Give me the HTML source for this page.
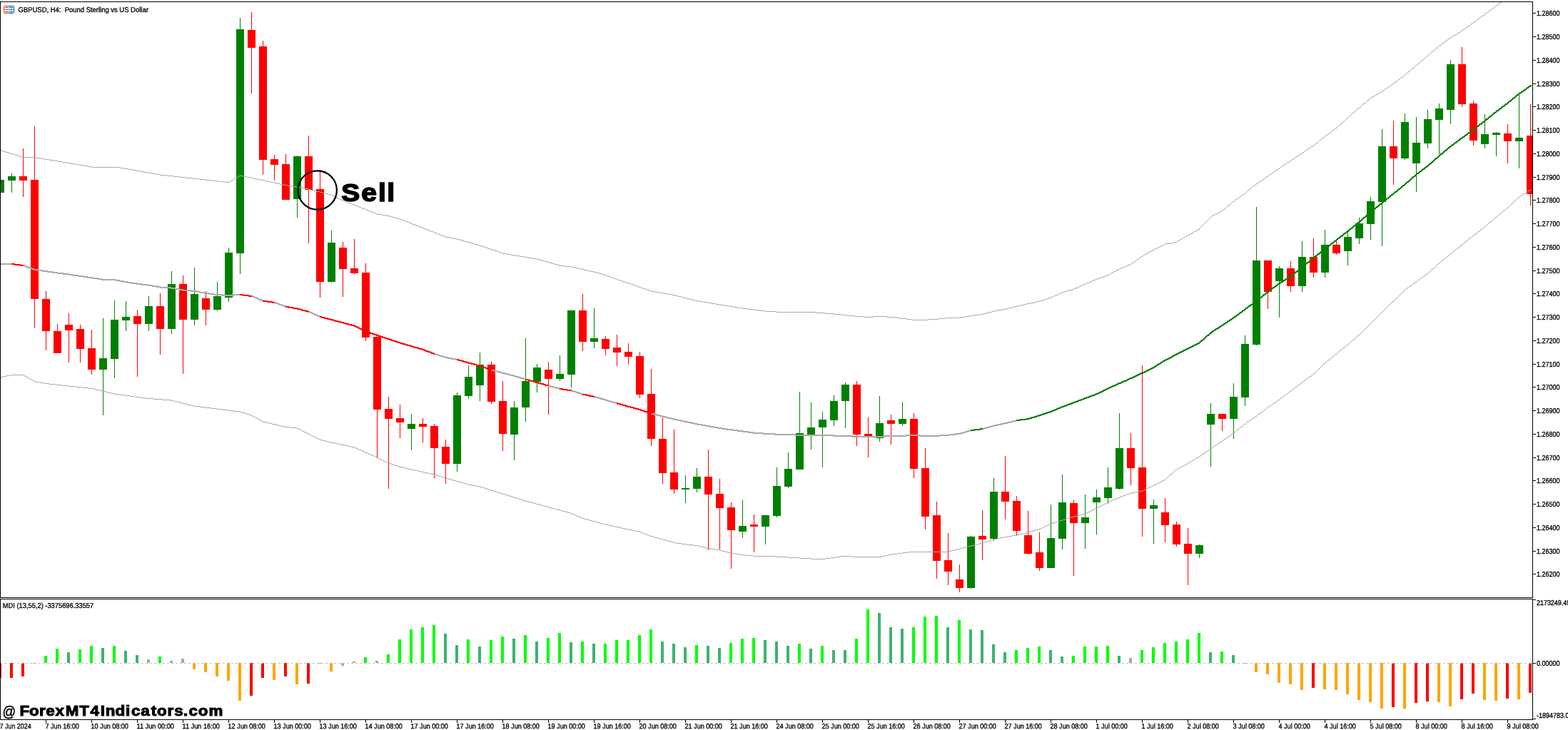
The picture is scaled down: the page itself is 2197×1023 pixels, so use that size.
<!DOCTYPE html>
<html lang="en"><head><meta charset="utf-8"><title>GBPUSD, H4: Pound Sterling vs US Dollar</title>
<style>
html,body{margin:0;padding:0;background:#fff;}
body{width:2197px;height:1023px;overflow:hidden;position:relative;}
svg{position:absolute;left:0;top:0;display:block;}
text{font-family:"Liberation Sans",sans-serif;fill:#000;white-space:pre;}
.ax{font-size:10px;stroke:#000;stroke-width:.35px;text-rendering:geometricPrecision;}
.t{font-size:10px;stroke:#000;stroke-width:.35px;text-rendering:geometricPrecision;}
.wa{font-family:"Liberation Sans",sans-serif;font-size:20.5px;stroke:#000;stroke-width:.5px;}
</style></head><body>
<svg width="2197" height="1023" viewBox="0 0 2197 1023">
<rect width="2197" height="1023" fill="#fff"/>
<g shape-rendering="crispEdges">
<path fill="#008000" d="M0 252h1v18h-1zM1 252h5v18h-5zM16 243h1v27h-1zM11 247h11v6h-11zM144 446h1v136h-1zM139 502h11v16h-11zM160 421h1v109h-1zM155 448h11v55h-11zM176 422h1v42h-1zM171 444h11v5h-11zM208 415h1v49h-1zM203 429h11v25h-11zM240 380h1v88h-1zM235 398h11v63h-11zM272 375h1v81h-1zM267 412h11v36h-11zM304 395h1v41h-1zM299 415h11v19h-11zM320 347h1v76h-1zM315 354h11v63h-11zM336 25h1v359h-1zM331 41h11v314h-11zM416 218h1v87h-1zM411 219h11v60h-11zM464 323h1v73h-1zM459 340h11v55h-11zM576 580h1v51h-1zM571 594h11v7h-11zM640 550h1v111h-1zM635 554h11v96h-11zM656 512h1v47h-1zM651 528h11v27h-11zM672 494h1v68h-1zM667 511h11v29h-11zM720 562h1v83h-1zM715 571h11v38h-11zM736 474h1v117h-1zM731 534h11v37h-11zM752 510h1v40h-1zM747 515h11v20h-11zM784 498h1v36h-1zM779 524h11v7h-11zM800 435h1v108h-1zM795 435h11v90h-11zM832 432h1v56h-1zM827 474h11v5h-11zM960 666h1v39h-1zM955 684h11v2h-11zM976 656h1v34h-1zM971 668h11v17h-11zM1040 701h1v53h-1zM1035 737h11v8h-11zM1072 722h1v41h-1zM1067 722h11v16h-11zM1088 655h1v70h-1zM1083 681h11v42h-11zM1104 634h1v50h-1zM1099 657h11v25h-11zM1120 549h1v109h-1zM1115 607h11v51h-11zM1136 564h1v66h-1zM1131 599h11v10h-11zM1152 577h1v78h-1zM1147 588h11v11h-11zM1168 554h1v43h-1zM1163 562h11v27h-11zM1184 536h1v64h-1zM1179 539h11v23h-11zM1232 555h1v64h-1zM1227 593h11v21h-11zM1264 563h1v34h-1zM1259 587h11v7h-11zM1360 751h1v74h-1zM1355 752h11v72h-11zM1392 670h1v88h-1zM1387 689h11v66h-11zM1472 707h1v89h-1zM1467 754h11v42h-11zM1488 665h1v105h-1zM1483 704h11v51h-11zM1520 693h1v76h-1zM1515 725h11v8h-11zM1536 686h1v63h-1zM1531 697h11v7h-11zM1552 655h1v51h-1zM1547 683h11v15h-11zM1568 579h1v107h-1zM1563 628h11v57h-11zM1616 700h1v62h-1zM1611 708h11v5h-11zM1680 763h1v19h-1zM1675 764h11v12h-11zM1696 565h1v89h-1zM1691 580h11v15h-11zM1728 537h1v78h-1zM1723 556h11v31h-11zM1744 470h1v99h-1zM1739 482h11v75h-11zM1760 290h1v194h-1zM1755 365h11v118h-11zM1792 373h1v72h-1zM1787 376h11v18h-11zM1824 338h1v71h-1zM1819 360h11v41h-11zM1856 322h1v67h-1zM1851 343h11v39h-11zM1888 325h1v47h-1zM1883 332h11v20h-11zM1904 305h1v37h-1zM1899 313h11v21h-11zM1920 276h1v60h-1zM1915 282h11v32h-11zM1936 181h1v164h-1zM1931 205h11v78h-11zM1968 159h1v65h-1zM1963 171h11v51h-11zM1984 164h1v105h-1zM1979 200h11v29h-11zM2000 154h1v54h-1zM1995 167h11v34h-11zM2016 145h1v71h-1zM2011 152h11v16h-11zM2032 84h1v90h-1zM2027 90h11v64h-11zM2080 160h1v48h-1zM2075 188h11v14h-11zM2096 185h1v34h-1zM2091 186h11v3h-11zM2128 130h1v106h-1zM2123 193h11v5h-11z"/>
<path fill="#ff0000" d="M32 208h1v68h-1zM27 247h11v6h-11zM48 177h1v283h-1zM43 252h11v167h-11zM64 408h1v83h-1zM59 419h11v45h-11zM80 454h1v41h-1zM75 464h11v31h-11zM96 439h1v69h-1zM91 455h11v8h-11zM112 455h1v53h-1zM107 461h11v28h-11zM128 462h1v63h-1zM123 488h11v30h-11zM192 434h1v94h-1zM187 443h11v11h-11zM224 411h1v86h-1zM219 429h11v32h-11zM256 386h1v138h-1zM251 398h11v50h-11zM288 408h1v48h-1zM283 418h11v16h-11zM352 17h1v114h-1zM347 42h11v25h-11zM368 57h1v188h-1zM363 65h11v159h-11zM384 217h1v36h-1zM379 223h11v8h-11zM400 216h1v64h-1zM395 230h11v50h-11zM432 190h1v151h-1zM427 219h11v47h-11zM448 238h1v179h-1zM443 265h11v130h-11zM480 339h1v77h-1zM475 347h11v30h-11zM496 335h1v49h-1zM491 376h11v7h-11zM512 369h1v109h-1zM507 382h11v91h-11zM528 470h1v171h-1zM523 472h11v102h-11zM544 556h1v129h-1zM539 573h11v14h-11zM560 567h1v47h-1zM555 586h11v6h-11zM592 586h1v34h-1zM587 594h11v4h-11zM608 594h1v76h-1zM603 597h11v31h-11zM624 616h1v62h-1zM619 626h11v24h-11zM688 507h1v59h-1zM683 511h11v52h-11zM704 534h1v98h-1zM699 562h11v46h-11zM768 507h1v74h-1zM763 518h11v13h-11zM816 412h1v80h-1zM811 435h11v44h-11zM848 471h1v27h-1zM843 475h11v14h-11zM864 469h1v44h-1zM859 487h11v7h-11zM880 481h1v30h-1zM875 493h11v7h-11zM896 493h1v65h-1zM891 499h11v54h-11zM912 517h1v108h-1zM907 552h11v63h-11zM928 585h1v93h-1zM923 615h11v48h-11zM944 602h1v90h-1zM939 662h11v24h-11zM992 630h1v141h-1zM987 668h11v25h-11zM1008 671h1v99h-1zM1003 692h11v20h-11zM1024 704h1v93h-1zM1019 711h11v32h-11zM1056 721h1v53h-1zM1051 735h11v3h-11zM1200 534h1v91h-1zM1195 539h11v70h-11zM1216 585h1v56h-1zM1211 608h11v3h-11zM1248 581h1v42h-1zM1243 589h11v5h-11zM1280 579h1v91h-1zM1275 587h11v70h-11zM1296 628h1v114h-1zM1291 656h11v68h-11zM1312 703h1v108h-1zM1307 722h11v64h-11zM1328 747h1v73h-1zM1323 785h11v16h-11zM1344 791h1v39h-1zM1339 812h11v12h-11zM1376 715h1v70h-1zM1371 751h11v5h-11zM1408 639h1v89h-1zM1403 689h11v14h-11zM1424 695h1v55h-1zM1419 702h11v42h-11zM1440 716h1v61h-1zM1435 750h11v26h-11zM1456 746h1v54h-1zM1451 774h11v22h-11zM1504 701h1v106h-1zM1499 705h11v28h-11zM1584 607h1v73h-1zM1579 628h11v28h-11zM1600 512h1v240h-1zM1595 655h11v58h-11zM1632 698h1v62h-1zM1627 718h11v18h-11zM1648 731h1v35h-1zM1643 735h11v28h-11zM1664 740h1v80h-1zM1659 762h11v14h-11zM1712 580h1v24h-1zM1707 580h11v7h-11zM1776 365h1v68h-1zM1771 365h11v44h-11zM1808 366h1v43h-1zM1803 376h11v25h-11zM1840 334h1v55h-1zM1835 360h11v22h-11zM1872 338h1v19h-1zM1867 343h11v12h-11zM1952 169h1v90h-1zM1947 205h11v17h-11zM2048 66h1v84h-1zM2043 90h11v56h-11zM2064 141h1v63h-1zM2059 145h11v52h-11zM2112 174h1v55h-1zM2107 187h11v11h-11zM2144 146h1v142h-1zM2139 190h8v82h-8z"/>
<path fill="#a9a9a9" d="M2102 3h2v1h-2zM2101 4h1v1h-1zM2099 5h2v1h-2zM2098 6h1v1h-1zM2097 7h1v1h-1zM2095 8h2v1h-2zM2094 9h1v1h-1zM2093 10h1v1h-1zM2091 11h2v1h-2zM2090 12h1v1h-1zM2089 13h1v1h-1zM2087 14h2v1h-2zM2086 15h1v1h-1zM2085 16h1v1h-1zM2083 17h2v1h-2zM2082 18h1v1h-1zM2081 19h1v1h-1zM2080 20h1v1h-1zM2078 21h2v1h-2zM2077 22h1v1h-1zM2075 23h2v1h-2zM2074 24h1v1h-1zM2073 25h1v1h-1zM2071 26h2v1h-2zM2070 27h1v1h-1zM2068 28h2v1h-2zM2067 29h1v1h-1zM2066 30h1v1h-1zM2064 31h2v1h-2zM2063 32h1v1h-1zM2061 33h2v1h-2zM2060 34h1v1h-1zM2059 35h1v1h-1zM2057 36h2v1h-2zM2056 37h1v1h-1zM2054 38h2v1h-2zM2053 39h1v1h-1zM2052 40h1v1h-1zM2050 41h2v1h-2zM2049 42h1v1h-1zM2047 43h2v1h-2zM2046 44h1v1h-1zM2044 45h2v1h-2zM2042 46h2v1h-2zM2041 47h1v1h-1zM2039 48h2v1h-2zM2037 49h2v1h-2zM2035 50h2v1h-2zM2034 51h1v1h-1zM2032 52h2v1h-2zM2031 53h1v1h-1zM2029 54h2v1h-2zM2028 55h1v1h-1zM2027 56h1v1h-1zM2025 57h2v1h-2zM2024 58h1v1h-1zM2023 59h1v1h-1zM2021 60h2v1h-2zM2020 61h1v1h-1zM2019 62h1v1h-1zM2017 63h2v1h-2zM2016 64h1v1h-1zM2015 65h1v1h-1zM2014 66h1v1h-1zM2012 67h2v1h-2zM2011 68h1v1h-1zM2010 69h1v1h-1zM2009 70h1v1h-1zM2008 71h1v1h-1zM2006 72h2v1h-2zM2005 73h1v1h-1zM2004 74h1v1h-1zM2003 75h1v1h-1zM2002 76h1v1h-1zM2001 77h1v1h-1zM1999 78h2v1h-2zM1998 79h1v1h-1zM1997 80h1v1h-1zM1996 81h1v1h-1zM1995 82h1v1h-1zM1993 83h2v1h-2zM1992 84h1v1h-1zM1991 85h1v1h-1zM1990 86h1v1h-1zM1989 87h1v1h-1zM1988 88h1v1h-1zM1986 89h2v1h-2zM1985 90h1v1h-1zM1984 91h1v1h-1zM1983 92h1v1h-1zM1982 93h1v1h-1zM1981 94h1v1h-1zM1979 95h2v1h-2zM1978 96h1v1h-1zM1977 97h1v1h-1zM1976 98h1v1h-1zM1975 99h1v1h-1zM1973 100h2v1h-2zM1972 101h1v1h-1zM1971 102h1v1h-1zM1970 103h1v1h-1zM1969 104h1v1h-1zM1967 105h2v1h-2zM1966 106h1v1h-1zM1965 107h1v1h-1zM1963 108h2v1h-2zM1962 109h1v1h-1zM1961 110h1v1h-1zM1959 111h2v1h-2zM1958 112h1v1h-1zM1957 113h1v1h-1zM1955 114h2v1h-2zM1954 115h1v1h-1zM1953 116h1v1h-1zM1951 117h2v1h-2zM1950 118h1v1h-1zM1948 119h2v1h-2zM1947 120h1v1h-1zM1946 121h1v1h-1zM1944 122h2v1h-2zM1943 123h1v1h-1zM1941 124h2v1h-2zM1940 125h1v1h-1zM1938 126h2v1h-2zM1937 127h1v1h-1zM1935 128h2v1h-2zM1933 129h2v1h-2zM1932 130h1v1h-1zM1930 131h2v1h-2zM1928 132h2v1h-2zM1927 133h1v1h-1zM1925 134h2v1h-2zM1923 135h2v1h-2zM1921 136h2v1h-2zM1920 137h1v1h-1zM1919 138h1v1h-1zM1918 139h1v1h-1zM1916 140h2v1h-2zM1915 141h1v1h-1zM1914 142h1v1h-1zM1913 143h1v1h-1zM1912 144h1v1h-1zM1910 145h2v1h-2zM1909 146h1v1h-1zM1908 147h1v1h-1zM1907 148h1v1h-1zM1906 149h1v1h-1zM1905 150h1v1h-1zM1903 151h2v1h-2zM1902 152h1v1h-1zM1901 153h1v1h-1zM1900 154h1v1h-1zM1899 155h1v1h-1zM1898 156h1v1h-1zM1897 157h1v1h-1zM1895 158h2v1h-2zM1894 159h1v1h-1zM1893 160h1v1h-1zM1892 161h1v1h-1zM1891 162h1v1h-1zM1890 163h1v1h-1zM1889 164h1v1h-1zM1887 165h2v1h-2zM1886 166h1v1h-1zM1885 167h1v1h-1zM1884 168h1v1h-1zM1883 169h1v1h-1zM1882 170h1v1h-1zM1881 171h1v1h-1zM1879 172h2v1h-2zM1878 173h1v1h-1zM1877 174h1v1h-1zM1876 175h1v1h-1zM1875 176h1v1h-1zM1874 177h1v1h-1zM1873 178h1v1h-1zM1871 179h2v1h-2zM1870 180h1v1h-1zM1869 181h1v1h-1zM1867 182h2v1h-2zM1866 183h1v1h-1zM1865 184h1v1h-1zM1864 185h1v1h-1zM1862 186h2v1h-2zM1861 187h1v1h-1zM1860 188h1v1h-1zM1858 189h2v1h-2zM1857 190h1v1h-1zM1856 191h1v1h-1zM1855 192h1v1h-1zM1853 193h2v1h-2zM1852 194h1v1h-1zM1851 195h1v1h-1zM1849 196h2v1h-2zM1848 197h1v1h-1zM1847 198h1v1h-1zM1846 199h1v1h-1zM1844 200h2v1h-2zM1843 201h1v1h-1zM1842 202h1v1h-1zM1841 203h1v1h-1zM1839 204h2v1h-2zM1837 205h2v1h-2zM1836 206h1v1h-1zM1834 207h2v1h-2zM1833 208h1v1h-1zM1831 209h2v1h-2zM1 210h1v1h-1zM1830 210h1v1h-1zM2 211h3v1h-3zM1828 211h2v1h-2zM5 212h3v1h-3zM1827 212h1v1h-1zM8 213h4v1h-4zM1825 213h2v1h-2zM12 214h3v1h-3zM1824 214h1v1h-1zM15 215h3v1h-3zM1822 215h2v1h-2zM18 216h3v1h-3zM1821 216h1v1h-1zM21 217h3v1h-3zM1819 217h2v1h-2zM24 218h4v1h-4zM1818 218h1v1h-1zM28 219h3v1h-3zM1816 219h2v1h-2zM31 220h20v1h-20zM1815 220h1v1h-1zM51 221h6v1h-6zM1813 221h2v1h-2zM57 222h6v1h-6zM1812 222h1v1h-1zM63 223h6v1h-6zM1810 223h2v1h-2zM69 224h6v1h-6zM1809 224h1v1h-1zM75 225h6v1h-6zM1807 225h2v1h-2zM81 226h6v1h-6zM1806 226h1v1h-1zM87 227h6v1h-6zM1804 227h2v1h-2zM93 228h6v1h-6zM1803 228h1v1h-1zM99 229h6v1h-6zM1801 229h2v1h-2zM105 230h6v1h-6zM1800 230h1v1h-1zM111 231h6v1h-6zM1798 231h2v1h-2zM117 232h6v1h-6zM1797 232h1v1h-1zM123 233h5v1h-5zM1795 233h2v1h-2zM128 234h40v1h-40zM1794 234h1v1h-1zM168 235h6v1h-6zM1793 235h1v1h-1zM174 236h6v1h-6zM1791 236h2v1h-2zM180 237h5v1h-5zM1790 237h1v1h-1zM185 238h6v1h-6zM1788 238h2v1h-2zM191 239h5v1h-5zM1787 239h1v1h-1zM196 240h6v1h-6zM1785 240h2v1h-2zM202 241h6v1h-6zM1784 241h1v1h-1zM208 242h5v1h-5zM1782 242h2v1h-2zM213 243h6v1h-6zM1781 243h1v1h-1zM219 244h5v1h-5zM1779 244h2v1h-2zM224 245h10v1h-10zM1778 245h1v1h-1zM234 246h9v1h-9zM335 246h6v1h-6zM1777 246h1v1h-1zM243 247h9v1h-9zM333 247h2v1h-2zM341 247h5v1h-5zM1775 247h2v1h-2zM252 248h9v1h-9zM332 248h1v1h-1zM346 248h5v1h-5zM1774 248h1v1h-1zM261 249h9v1h-9zM330 249h2v1h-2zM351 249h4v1h-4zM1772 249h2v1h-2zM270 250h9v1h-9zM328 250h2v1h-2zM355 250h5v1h-5zM1771 250h1v1h-1zM279 251h9v1h-9zM327 251h1v1h-1zM360 251h5v1h-5zM1769 251h2v1h-2zM288 252h9v1h-9zM325 252h2v1h-2zM365 252h5v1h-5zM1768 252h1v1h-1zM297 253h9v1h-9zM323 253h2v1h-2zM370 253h4v1h-4zM1766 253h2v1h-2zM306 254h9v1h-9zM322 254h1v1h-1zM374 254h5v1h-5zM1765 254h1v1h-1zM315 255h7v1h-7zM379 255h5v1h-5zM1763 255h2v1h-2zM384 256h5v1h-5zM1762 256h1v1h-1zM389 257h4v1h-4zM1760 257h2v1h-2zM393 258h5v1h-5zM1759 258h1v1h-1zM398 259h5v1h-5zM1758 259h1v1h-1zM403 260h6v1h-6zM1756 260h2v1h-2zM409 261h6v1h-6zM1755 261h1v1h-1zM415 262h6v1h-6zM1754 262h1v1h-1zM421 263h6v1h-6zM1753 263h1v1h-1zM427 264h5v1h-5zM1752 264h1v1h-1zM432 265h4v1h-4zM1750 265h2v1h-2zM436 266h4v1h-4zM1749 266h1v1h-1zM440 267h4v1h-4zM1748 267h1v1h-1zM444 268h4v1h-4zM1747 268h1v1h-1zM448 269h4v1h-4zM1746 269h1v1h-1zM452 270h4v1h-4zM1745 270h1v1h-1zM456 271h4v1h-4zM1743 271h2v1h-2zM460 272h4v1h-4zM1742 272h1v1h-1zM464 273h2v1h-2zM1740 273h2v1h-2zM466 274h2v1h-2zM1739 274h1v1h-1zM468 275h2v1h-2zM1737 275h2v1h-2zM470 276h2v1h-2zM1736 276h1v1h-1zM472 277h2v1h-2zM1734 277h2v1h-2zM474 278h2v1h-2zM1733 278h1v1h-1zM476 279h2v1h-2zM1731 279h2v1h-2zM478 280h2v1h-2zM1730 280h1v1h-1zM480 281h3v1h-3zM1729 281h1v1h-1zM483 282h3v1h-3zM1727 282h2v1h-2zM486 283h2v1h-2zM1726 283h1v1h-1zM488 284h3v1h-3zM1725 284h1v1h-1zM491 285h2v1h-2zM1724 285h1v1h-1zM493 286h3v1h-3zM1723 286h1v1h-1zM496 287h2v1h-2zM1721 287h2v1h-2zM498 288h3v1h-3zM1720 288h1v1h-1zM501 289h2v1h-2zM1719 289h1v1h-1zM503 290h3v1h-3zM1718 290h1v1h-1zM506 291h2v1h-2zM1717 291h1v1h-1zM508 292h3v1h-3zM1716 292h1v1h-1zM511 293h2v1h-2zM1714 293h2v1h-2zM513 294h3v1h-3zM1713 294h1v1h-1zM516 295h2v1h-2zM1712 295h1v1h-1zM518 296h3v1h-3zM1710 296h2v1h-2zM521 297h2v1h-2zM1708 297h2v1h-2zM523 298h3v1h-3zM1706 298h2v1h-2zM526 299h2v1h-2zM1704 299h2v1h-2zM528 300h7v1h-7zM1702 300h2v1h-2zM535 301h6v1h-6zM1700 301h2v1h-2zM541 302h5v1h-5zM1698 302h2v1h-2zM546 303h4v1h-4zM1697 303h1v1h-1zM550 304h3v1h-3zM1696 304h1v1h-1zM553 305h4v1h-4zM1695 305h1v1h-1zM557 306h3v1h-3zM1694 306h1v1h-1zM560 307h3v1h-3zM1693 307h1v1h-1zM563 308h3v1h-3zM1692 308h1v1h-1zM566 309h2v1h-2zM1691 309h1v1h-1zM568 310h3v1h-3zM1690 310h1v1h-1zM571 311h2v1h-2zM1689 311h1v1h-1zM573 312h3v1h-3zM1688 312h1v1h-1zM576 313h2v1h-2zM1687 313h1v1h-1zM578 314h3v1h-3zM1686 314h1v1h-1zM581 315h3v1h-3zM1685 315h1v1h-1zM584 316h2v1h-2zM1684 316h1v1h-1zM586 317h3v1h-3zM1683 317h1v1h-1zM589 318h2v1h-2zM1682 318h1v1h-1zM591 319h3v1h-3zM1681 319h1v1h-1zM594 320h2v1h-2zM1680 320h1v1h-1zM596 321h3v1h-3zM1679 321h2v1h-2zM599 322h2v1h-2zM1677 322h2v1h-2zM601 323h3v1h-3zM1675 323h2v1h-2zM604 324h3v1h-3zM1673 324h2v1h-2zM607 325h2v1h-2zM1672 325h1v1h-1zM609 326h3v1h-3zM1670 326h2v1h-2zM612 327h2v1h-2zM1668 327h2v1h-2zM614 328h3v1h-3zM1666 328h2v1h-2zM617 329h2v1h-2zM1665 329h1v1h-1zM619 330h3v1h-3zM1663 330h2v1h-2zM622 331h2v1h-2zM1661 331h2v1h-2zM624 332h6v1h-6zM1659 332h2v1h-2zM630 333h5v1h-5zM1657 333h2v1h-2zM635 334h5v1h-5zM1656 334h1v1h-1zM640 335h4v1h-4zM1654 335h2v1h-2zM644 336h4v1h-4zM1652 336h2v1h-2zM648 337h3v1h-3zM1650 337h2v1h-2zM651 338h4v1h-4zM1649 338h1v1h-1zM655 339h3v1h-3zM1645 339h4v1h-4zM658 340h4v1h-4zM1641 340h4v1h-4zM662 341h3v1h-3zM1633 341h8v1h-8zM665 342h4v1h-4zM1631 342h2v1h-2zM669 343h3v1h-3zM1629 343h2v1h-2zM672 344h3v1h-3zM1627 344h2v1h-2zM675 345h3v1h-3zM1625 345h2v1h-2zM678 346h3v1h-3zM1623 346h2v1h-2zM681 347h3v1h-3zM1621 347h2v1h-2zM684 348h3v1h-3zM1619 348h2v1h-2zM687 349h3v1h-3zM1617 349h2v1h-2zM690 350h3v1h-3zM1615 350h2v1h-2zM693 351h3v1h-3zM1613 351h2v1h-2zM696 352h3v1h-3zM1611 352h2v1h-2zM699 353h3v1h-3zM1610 353h1v1h-1zM702 354h2v1h-2zM1608 354h2v1h-2zM704 355h6v1h-6zM1606 355h2v1h-2zM710 356h6v1h-6zM1604 356h2v1h-2zM716 357h6v1h-6zM1602 357h2v1h-2zM722 358h6v1h-6zM1601 358h1v1h-1zM728 359h6v1h-6zM1599 359h2v1h-2zM734 360h6v1h-6zM1598 360h1v1h-1zM740 361h6v1h-6zM1596 361h2v1h-2zM746 362h6v1h-6zM1595 362h1v1h-1zM752 363h4v1h-4zM1593 363h2v1h-2zM756 364h4v1h-4zM1592 364h1v1h-1zM760 365h3v1h-3zM1591 365h1v1h-1zM763 366h4v1h-4zM1589 366h2v1h-2zM767 367h3v1h-3zM1588 367h1v1h-1zM770 368h4v1h-4zM1586 368h2v1h-2zM774 369h3v1h-3zM1585 369h1v1h-1zM777 370h4v1h-4zM1583 370h2v1h-2zM781 371h3v1h-3zM1580 371h3v1h-3zM784 372h8v1h-8zM1578 372h2v1h-2zM792 373h8v1h-8zM1576 373h2v1h-2zM800 374h5v1h-5zM1574 374h2v1h-2zM805 375h4v1h-4zM1571 375h3v1h-3zM809 376h5v1h-5zM1569 376h2v1h-2zM814 377h4v1h-4zM1567 377h2v1h-2zM818 378h5v1h-5zM1565 378h2v1h-2zM823 379h4v1h-4zM1563 379h2v1h-2zM827 380h5v1h-5zM1561 380h2v1h-2zM832 381h4v1h-4zM1559 381h2v1h-2zM836 382h4v1h-4zM1557 382h2v1h-2zM840 383h3v1h-3zM1556 383h1v1h-1zM843 384h3v1h-3zM1554 384h2v1h-2zM846 385h3v1h-3zM1551 385h3v1h-3zM849 386h3v1h-3zM1549 386h2v1h-2zM852 387h3v1h-3zM1546 387h3v1h-3zM855 388h3v1h-3zM1543 388h3v1h-3zM858 389h3v1h-3zM1540 389h3v1h-3zM861 390h3v1h-3zM1537 390h3v1h-3zM864 391h2v1h-2zM1535 391h2v1h-2zM866 392h3v1h-3zM1532 392h3v1h-3zM869 393h3v1h-3zM1530 393h2v1h-2zM872 394h3v1h-3zM1528 394h2v1h-2zM875 395h3v1h-3zM1526 395h2v1h-2zM878 396h3v1h-3zM1523 396h3v1h-3zM881 397h3v1h-3zM1521 397h2v1h-2zM884 398h3v1h-3zM1519 398h2v1h-2zM887 399h3v1h-3zM1516 399h3v1h-3zM890 400h2v1h-2zM1514 400h2v1h-2zM892 401h3v1h-3zM1512 401h2v1h-2zM895 402h3v1h-3zM1510 402h2v1h-2zM898 403h3v1h-3zM1507 403h3v1h-3zM901 404h3v1h-3zM1505 404h2v1h-2zM904 405h3v1h-3zM1502 405h3v1h-3zM907 406h3v1h-3zM1498 406h4v1h-4zM910 407h2v1h-2zM1495 407h3v1h-3zM912 408h6v1h-6zM1491 408h4v1h-4zM918 409h6v1h-6zM1488 409h3v1h-3zM924 410h6v1h-6zM1486 410h2v1h-2zM930 411h5v1h-5zM1484 411h2v1h-2zM935 412h6v1h-6zM1482 412h2v1h-2zM941 413h5v1h-5zM1480 413h2v1h-2zM946 414h4v1h-4zM1477 414h3v1h-3zM950 415h4v1h-4zM1475 415h2v1h-2zM954 416h4v1h-4zM1473 416h2v1h-2zM958 417h4v1h-4zM1470 417h3v1h-3zM962 418h4v1h-4zM1467 418h3v1h-3zM966 419h4v1h-4zM1464 419h3v1h-3zM970 420h4v1h-4zM1461 420h3v1h-3zM974 421h5v1h-5zM1457 421h4v1h-4zM979 422h6v1h-6zM1453 422h4v1h-4zM985 423h6v1h-6zM1449 423h4v1h-4zM991 424h6v1h-6zM1444 424h5v1h-5zM997 425h6v1h-6zM1439 425h5v1h-5zM1003 426h5v1h-5zM1435 426h4v1h-4zM1008 427h7v1h-7zM1430 427h5v1h-5zM1015 428h6v1h-6zM1426 428h4v1h-4zM1021 429h7v1h-7zM1422 429h4v1h-4zM1028 430h6v1h-6zM1418 430h4v1h-4zM1034 431h6v1h-6zM1414 431h4v1h-4zM1040 432h8v1h-8zM1410 432h4v1h-4zM1048 433h8v1h-8zM1405 433h5v1h-5zM1056 434h8v1h-8zM1399 434h6v1h-6zM1064 435h8v1h-8zM1394 435h5v1h-5zM1072 436h16v1h-16zM1390 436h4v1h-4zM1088 437h16v1h-16zM1105 437h38v1h-38zM1386 437h4v1h-4zM1104 438h1v1h-1zM1143 438h13v1h-13zM1382 438h4v1h-4zM1156 439h12v1h-12zM1378 439h4v1h-4zM1168 440h10v1h-10zM1372 440h6v1h-6zM1178 441h9v1h-9zM1365 441h7v1h-7zM1187 442h10v1h-10zM1359 442h6v1h-6zM1197 443h13v1h-13zM1224 443h18v1h-18zM1353 443h6v1h-6zM1210 444h14v1h-14zM1242 444h12v1h-12zM1346 444h7v1h-7zM1254 445h8v1h-8zM1324 445h22v1h-22zM1262 446h8v1h-8zM1315 446h9v1h-9zM1270 447h8v1h-8zM1301 447h14v1h-14zM1278 448h23v1h-23z"/>
<path fill="#a9a9a9" d="M2143 266h2v1h-2zM2141 267h2v1h-2zM2140 268h1v1h-1zM2138 269h2v1h-2zM2137 270h1v1h-1zM2135 271h2v1h-2zM2133 272h2v1h-2zM2132 273h1v1h-1zM2130 274h2v1h-2zM2129 275h1v1h-1zM2127 276h2v1h-2zM2126 277h1v1h-1zM2125 278h1v1h-1zM2124 279h1v1h-1zM2123 280h1v1h-1zM2122 281h1v1h-1zM2121 282h1v1h-1zM2120 283h1v1h-1zM2119 284h1v1h-1zM2118 285h1v1h-1zM2117 286h1v1h-1zM2116 287h1v1h-1zM2115 288h1v1h-1zM2114 289h1v1h-1zM2113 290h1v1h-1zM2111 291h2v1h-2zM2110 292h1v1h-1zM2109 293h1v1h-1zM2108 294h1v1h-1zM2106 295h2v1h-2zM2105 296h1v1h-1zM2104 297h1v1h-1zM2103 298h1v1h-1zM2101 299h2v1h-2zM2100 300h1v1h-1zM2099 301h1v1h-1zM2098 302h1v1h-1zM2097 303h1v1h-1zM2095 304h2v1h-2zM2094 305h1v1h-1zM2093 306h1v1h-1zM2092 307h1v1h-1zM2091 308h1v1h-1zM2090 309h1v1h-1zM2089 310h1v1h-1zM2087 311h2v1h-2zM2086 312h1v1h-1zM2085 313h1v1h-1zM2084 314h1v1h-1zM2083 315h1v1h-1zM2082 316h1v1h-1zM2081 317h1v1h-1zM2079 318h2v1h-2zM2078 319h1v1h-1zM2077 320h1v1h-1zM2075 321h2v1h-2zM2074 322h1v1h-1zM2073 323h1v1h-1zM2071 324h2v1h-2zM2070 325h1v1h-1zM2069 326h1v1h-1zM2067 327h2v1h-2zM2066 328h1v1h-1zM2065 329h1v1h-1zM2063 330h2v1h-2zM2062 331h1v1h-1zM2061 332h1v1h-1zM2060 333h1v1h-1zM2058 334h2v1h-2zM2057 335h1v1h-1zM2056 336h1v1h-1zM2055 337h1v1h-1zM2053 338h2v1h-2zM2052 339h1v1h-1zM2051 340h1v1h-1zM2050 341h1v1h-1zM2049 342h1v1h-1zM2047 343h2v1h-2zM2046 344h1v1h-1zM2045 345h1v1h-1zM2044 346h1v1h-1zM2042 347h2v1h-2zM2041 348h1v1h-1zM2040 349h1v1h-1zM2039 350h1v1h-1zM2037 351h2v1h-2zM2036 352h1v1h-1zM2035 353h1v1h-1zM2034 354h1v1h-1zM2033 355h1v1h-1zM2031 356h2v1h-2zM2030 357h1v1h-1zM2029 358h1v1h-1zM2028 359h1v1h-1zM2026 360h2v1h-2zM2025 361h1v1h-1zM2024 362h1v1h-1zM2023 363h1v1h-1zM2021 364h2v1h-2zM2020 365h1v1h-1zM2019 366h1v1h-1zM2018 367h1v1h-1zM2017 368h1v1h-1zM2015 369h2v1h-2zM2014 370h1v1h-1zM2013 371h1v1h-1zM2012 372h1v1h-1zM2011 373h1v1h-1zM2010 374h1v1h-1zM2009 375h1v1h-1zM2007 376h2v1h-2zM2006 377h1v1h-1zM2005 378h1v1h-1zM2004 379h1v1h-1zM2003 380h1v1h-1zM2002 381h1v1h-1zM2001 382h1v1h-1zM1999 383h2v1h-2zM1998 384h1v1h-1zM1997 385h1v1h-1zM1995 386h2v1h-2zM1994 387h1v1h-1zM1993 388h1v1h-1zM1991 389h2v1h-2zM1990 390h1v1h-1zM1989 391h1v1h-1zM1987 392h2v1h-2zM1986 393h1v1h-1zM1985 394h1v1h-1zM1983 395h2v1h-2zM1982 396h1v1h-1zM1980 397h2v1h-2zM1979 398h1v1h-1zM1977 399h2v1h-2zM1976 400h1v1h-1zM1974 401h2v1h-2zM1973 402h1v1h-1zM1971 403h2v1h-2zM1970 404h1v1h-1zM1969 405h1v1h-1zM1968 406h1v1h-1zM1967 407h1v1h-1zM1966 408h1v1h-1zM1965 409h1v1h-1zM1964 410h1v1h-1zM1963 411h1v1h-1zM1962 412h1v1h-1zM1961 413h1v1h-1zM1960 414h1v1h-1zM1959 415h1v1h-1zM1958 416h1v1h-1zM1957 417h1v1h-1zM1956 418h1v1h-1zM1955 419h1v1h-1zM1954 420h1v1h-1zM1953 421h1v1h-1zM1951 422h2v1h-2zM1950 423h1v1h-1zM1949 424h1v1h-1zM1948 425h1v1h-1zM1947 426h1v1h-1zM1946 427h1v1h-1zM1945 428h1v1h-1zM1944 429h1v1h-1zM1943 430h1v1h-1zM1942 431h1v1h-1zM1941 432h1v1h-1zM1940 433h1v1h-1zM1939 434h1v1h-1zM1938 435h1v1h-1zM1937 436h1v1h-1zM1936 437h1v1h-1zM1935 438h1v1h-1zM1934 439h1v1h-1zM1933 440h1v1h-1zM1932 441h1v1h-1zM1931 442h1v1h-1zM1930 443h1v1h-1zM1929 444h1v1h-1zM1928 445h1v1h-1zM1927 446h1v1h-1zM1926 447h1v1h-1zM1925 448h1v1h-1zM1924 449h1v1h-1zM1923 450h1v1h-1zM1922 451h1v1h-1zM1921 452h1v1h-1zM1920 453h1v1h-1zM1919 454h1v1h-1zM1918 455h1v1h-1zM1917 456h1v1h-1zM1916 457h1v1h-1zM1915 458h1v1h-1zM1914 459h1v1h-1zM1913 460h1v1h-1zM1912 461h1v1h-1zM1911 462h1v1h-1zM1910 463h1v1h-1zM1909 464h1v1h-1zM1908 465h1v1h-1zM1907 466h1v1h-1zM1906 467h1v1h-1zM1905 468h1v1h-1zM1903 469h2v1h-2zM1902 470h1v1h-1zM1901 471h1v1h-1zM1900 472h1v1h-1zM1899 473h1v1h-1zM1898 474h1v1h-1zM1897 475h1v1h-1zM1895 476h2v1h-2zM1894 477h1v1h-1zM1893 478h1v1h-1zM1892 479h1v1h-1zM1891 480h1v1h-1zM1890 481h1v1h-1zM1889 482h1v1h-1zM1887 483h2v1h-2zM1886 484h1v1h-1zM1885 485h1v1h-1zM1884 486h1v1h-1zM1882 487h2v1h-2zM1881 488h1v1h-1zM1880 489h1v1h-1zM1879 490h1v1h-1zM1877 491h2v1h-2zM1876 492h1v1h-1zM1875 493h1v1h-1zM1874 494h1v1h-1zM1873 495h1v1h-1zM1871 496h2v1h-2zM1870 497h1v1h-1zM1869 498h1v1h-1zM1868 499h1v1h-1zM1866 500h2v1h-2zM1865 501h1v1h-1zM1864 502h1v1h-1zM1863 503h1v1h-1zM1861 504h2v1h-2zM1860 505h1v1h-1zM1859 506h1v1h-1zM1858 507h1v1h-1zM1857 508h1v1h-1zM1855 509h2v1h-2zM1854 510h1v1h-1zM1853 511h1v1h-1zM1852 512h1v1h-1zM1851 513h1v1h-1zM1850 514h1v1h-1zM1849 515h1v1h-1zM1848 516h1v1h-1zM1847 517h1v1h-1zM1846 518h1v1h-1zM1845 519h1v1h-1zM1844 520h1v1h-1zM1843 521h1v1h-1zM1842 522h1v1h-1zM1841 523h1v1h-1zM1839 524h2v1h-2zM14 525h19v1h-19zM1838 525h1v1h-1zM9 526h5v1h-5zM33 526h2v1h-2zM1837 526h1v1h-1zM4 527h5v1h-5zM35 527h2v1h-2zM1835 527h2v1h-2zM1 528h3v1h-3zM37 528h2v1h-2zM1834 528h1v1h-1zM39 529h1v1h-1zM1833 529h1v1h-1zM40 530h2v1h-2zM1831 530h2v1h-2zM42 531h2v1h-2zM1830 531h1v1h-1zM44 532h2v1h-2zM1829 532h1v1h-1zM46 533h2v1h-2zM1827 533h2v1h-2zM48 534h3v1h-3zM1826 534h1v1h-1zM51 535h5v1h-5zM1825 535h1v1h-1zM56 536h6v1h-6zM1823 536h2v1h-2zM62 537h7v1h-7zM1822 537h1v1h-1zM69 538h9v1h-9zM1821 538h1v1h-1zM78 539h9v1h-9zM1819 539h2v1h-2zM87 540h9v1h-9zM1818 540h1v1h-1zM96 541h10v1h-10zM1817 541h1v1h-1zM106 542h9v1h-9zM1815 542h2v1h-2zM115 543h9v1h-9zM1814 543h1v1h-1zM124 544h7v1h-7zM1813 544h1v1h-1zM131 545h4v1h-4zM1811 545h2v1h-2zM135 546h5v1h-5zM1810 546h1v1h-1zM140 547h4v1h-4zM1809 547h1v1h-1zM144 548h4v1h-4zM1807 548h2v1h-2zM148 549h4v1h-4zM1806 549h1v1h-1zM152 550h4v1h-4zM1805 550h1v1h-1zM156 551h4v1h-4zM1803 551h2v1h-2zM160 552h8v1h-8zM1802 552h1v1h-1zM168 553h7v1h-7zM1801 553h1v1h-1zM175 554h7v1h-7zM1799 554h2v1h-2zM182 555h7v1h-7zM1798 555h1v1h-1zM189 556h7v1h-7zM1797 556h1v1h-1zM196 557h8v1h-8zM1795 557h2v1h-2zM204 558h11v1h-11zM1794 558h1v1h-1zM215 559h13v1h-13zM1793 559h1v1h-1zM228 560h12v1h-12zM1791 560h2v1h-2zM240 561h4v1h-4zM1790 561h1v1h-1zM244 562h4v1h-4zM1788 562h2v1h-2zM248 563h4v1h-4zM1787 563h1v1h-1zM252 564h4v1h-4zM1785 564h2v1h-2zM256 565h4v1h-4zM1784 565h1v1h-1zM260 566h4v1h-4zM1782 566h2v1h-2zM264 567h4v1h-4zM1781 567h1v1h-1zM268 568h4v1h-4zM1779 568h2v1h-2zM272 569h8v1h-8zM1778 569h1v1h-1zM280 570h8v1h-8zM1777 570h1v1h-1zM288 571h8v1h-8zM1775 571h2v1h-2zM296 572h8v1h-8zM1774 572h1v1h-1zM304 573h8v1h-8zM1773 573h1v1h-1zM312 574h8v1h-8zM1771 574h2v1h-2zM320 575h8v1h-8zM1770 575h1v1h-1zM328 576h8v1h-8zM1769 576h1v1h-1zM336 577h4v1h-4zM1767 577h2v1h-2zM340 578h3v1h-3zM1766 578h1v1h-1zM343 579h3v1h-3zM1765 579h1v1h-1zM346 580h3v1h-3zM1763 580h2v1h-2zM349 581h3v1h-3zM1762 581h1v1h-1zM352 582h2v1h-2zM1761 582h1v1h-1zM354 583h2v1h-2zM1759 583h2v1h-2zM356 584h2v1h-2zM1758 584h1v1h-1zM358 585h2v1h-2zM1756 585h2v1h-2zM360 586h1v1h-1zM1755 586h1v1h-1zM361 587h2v1h-2zM1753 587h2v1h-2zM363 588h2v1h-2zM1752 588h1v1h-1zM365 589h2v1h-2zM1750 589h2v1h-2zM367 590h1v1h-1zM1749 590h1v1h-1zM368 591h5v1h-5zM1747 591h2v1h-2zM373 592h4v1h-4zM1746 592h1v1h-1zM377 593h4v1h-4zM1745 593h1v1h-1zM381 594h5v1h-5zM1743 594h2v1h-2zM386 595h4v1h-4zM1742 595h1v1h-1zM390 596h4v1h-4zM1741 596h1v1h-1zM394 597h5v1h-5zM1740 597h1v1h-1zM399 598h7v1h-7zM1738 598h2v1h-2zM406 599h9v1h-9zM1737 599h1v1h-1zM415 600h3v1h-3zM1736 600h1v1h-1zM418 601h2v1h-2zM1735 601h1v1h-1zM420 602h2v1h-2zM1733 602h2v1h-2zM422 603h2v1h-2zM1732 603h1v1h-1zM424 604h2v1h-2zM1731 604h1v1h-1zM426 605h2v1h-2zM1730 605h1v1h-1zM428 606h2v1h-2zM1729 606h1v1h-1zM430 607h2v1h-2zM1727 607h2v1h-2zM432 608h2v1h-2zM1726 608h1v1h-1zM434 609h2v1h-2zM1724 609h2v1h-2zM436 610h2v1h-2zM1723 610h1v1h-1zM438 611h2v1h-2zM1721 611h2v1h-2zM440 612h2v1h-2zM1720 612h1v1h-1zM442 613h2v1h-2zM1718 613h2v1h-2zM444 614h2v1h-2zM1717 614h1v1h-1zM446 615h2v1h-2zM1715 615h2v1h-2zM448 616h4v1h-4zM1714 616h1v1h-1zM452 617h4v1h-4zM1713 617h1v1h-1zM456 618h4v1h-4zM1711 618h2v1h-2zM460 619h4v1h-4zM1710 619h1v1h-1zM464 620h5v1h-5zM1708 620h2v1h-2zM469 621h5v1h-5zM1707 621h1v1h-1zM474 622h4v1h-4zM1705 622h2v1h-2zM478 623h5v1h-5zM1704 623h1v1h-1zM483 624h4v1h-4zM1702 624h2v1h-2zM487 625h5v1h-5zM1701 625h1v1h-1zM492 626h4v1h-4zM1699 626h2v1h-2zM496 627h3v1h-3zM1698 627h1v1h-1zM499 628h2v1h-2zM1697 628h1v1h-1zM501 629h2v1h-2zM1695 629h2v1h-2zM503 630h3v1h-3zM1694 630h1v1h-1zM506 631h2v1h-2zM1692 631h2v1h-2zM508 632h2v1h-2zM1691 632h1v1h-1zM510 633h2v1h-2zM1689 633h2v1h-2zM512 634h3v1h-3zM1688 634h1v1h-1zM515 635h2v1h-2zM1686 635h2v1h-2zM517 636h2v1h-2zM1685 636h1v1h-1zM519 637h3v1h-3zM1683 637h2v1h-2zM522 638h2v1h-2zM1682 638h1v1h-1zM524 639h2v1h-2zM1681 639h1v1h-1zM526 640h2v1h-2zM1679 640h2v1h-2zM528 641h2v1h-2zM1677 641h2v1h-2zM530 642h2v1h-2zM1675 642h2v1h-2zM532 643h2v1h-2zM1674 643h1v1h-1zM534 644h2v1h-2zM1672 644h2v1h-2zM536 645h2v1h-2zM1670 645h2v1h-2zM538 646h2v1h-2zM1669 646h1v1h-1zM540 647h2v1h-2zM1667 647h2v1h-2zM542 648h2v1h-2zM1665 648h2v1h-2zM544 649h4v1h-4zM1664 649h1v1h-1zM548 650h3v1h-3zM1662 650h2v1h-2zM551 651h3v1h-3zM1660 651h2v1h-2zM554 652h3v1h-3zM1658 652h2v1h-2zM557 653h3v1h-3zM1656 653h2v1h-2zM560 654h4v1h-4zM1654 654h2v1h-2zM564 655h4v1h-4zM1652 655h2v1h-2zM568 656h4v1h-4zM1650 656h2v1h-2zM572 657h4v1h-4zM1649 657h1v1h-1zM576 658h5v1h-5zM1647 658h2v1h-2zM581 659h5v1h-5zM1646 659h1v1h-1zM586 660h4v1h-4zM1645 660h1v1h-1zM590 661h5v1h-5zM1644 661h1v1h-1zM595 662h4v1h-4zM1643 662h1v1h-1zM599 663h5v1h-5zM1642 663h1v1h-1zM604 664h4v1h-4zM1641 664h1v1h-1zM608 665h4v1h-4zM1639 665h2v1h-2zM612 666h3v1h-3zM1638 666h1v1h-1zM615 667h3v1h-3zM1637 667h1v1h-1zM618 668h3v1h-3zM1636 668h1v1h-1zM621 669h3v1h-3zM1635 669h1v1h-1zM624 670h4v1h-4zM1634 670h1v1h-1zM628 671h4v1h-4zM1633 671h1v1h-1zM632 672h3v1h-3zM1631 672h2v1h-2zM635 673h4v1h-4zM1629 673h2v1h-2zM639 674h3v1h-3zM1627 674h2v1h-2zM642 675h4v1h-4zM1625 675h2v1h-2zM646 676h3v1h-3zM1623 676h2v1h-2zM649 677h4v1h-4zM1621 677h2v1h-2zM653 678h3v1h-3zM1619 678h2v1h-2zM656 679h6v1h-6zM1617 679h2v1h-2zM662 680h5v1h-5zM1615 680h2v1h-2zM667 681h5v1h-5zM1613 681h2v1h-2zM672 682h4v1h-4zM1611 682h2v1h-2zM676 683h3v1h-3zM1609 683h2v1h-2zM679 684h3v1h-3zM1607 684h2v1h-2zM682 685h3v1h-3zM1605 685h2v1h-2zM685 686h3v1h-3zM1603 686h2v1h-2zM688 687h4v1h-4zM1601 687h2v1h-2zM692 688h3v1h-3zM1595 688h6v1h-6zM695 689h3v1h-3zM1590 689h5v1h-5zM698 690h3v1h-3zM1585 690h5v1h-5zM701 691h3v1h-3zM1582 691h3v1h-3zM704 692h4v1h-4zM1579 692h3v1h-3zM708 693h3v1h-3zM1577 693h2v1h-2zM711 694h3v1h-3zM1574 694h3v1h-3zM714 695h3v1h-3zM1571 695h3v1h-3zM717 696h3v1h-3zM1569 696h2v1h-2zM720 697h4v1h-4zM1566 697h3v1h-3zM724 698h3v1h-3zM1564 698h2v1h-2zM727 699h3v1h-3zM1562 699h2v1h-2zM730 700h3v1h-3zM1559 700h3v1h-3zM733 701h3v1h-3zM1557 701h2v1h-2zM736 702h4v1h-4zM1555 702h2v1h-2zM740 703h4v1h-4zM1553 703h2v1h-2zM744 704h4v1h-4zM1551 704h2v1h-2zM748 705h3v1h-3zM1549 705h2v1h-2zM751 706h4v1h-4zM1547 706h2v1h-2zM755 707h4v1h-4zM1545 707h2v1h-2zM759 708h3v1h-3zM1543 708h2v1h-2zM762 709h4v1h-4zM1541 709h2v1h-2zM766 710h4v1h-4zM1539 710h2v1h-2zM770 711h3v1h-3zM1537 711h2v1h-2zM773 712h4v1h-4zM1535 712h2v1h-2zM777 713h4v1h-4zM1533 713h2v1h-2zM781 714h4v1h-4zM1531 714h2v1h-2zM785 715h3v1h-3zM1529 715h2v1h-2zM788 716h4v1h-4zM1527 716h2v1h-2zM792 717h4v1h-4zM1525 717h2v1h-2zM796 718h3v1h-3zM1523 718h2v1h-2zM799 719h3v1h-3zM1521 719h2v1h-2zM802 720h2v1h-2zM1517 720h4v1h-4zM804 721h3v1h-3zM1513 721h4v1h-4zM807 722h2v1h-2zM1509 722h4v1h-4zM809 723h2v1h-2zM1505 723h4v1h-4zM811 724h3v1h-3zM1501 724h4v1h-4zM814 725h2v1h-2zM1498 725h3v1h-3zM816 726h3v1h-3zM1495 726h3v1h-3zM819 727h4v1h-4zM1492 727h3v1h-3zM823 728h3v1h-3zM1489 728h3v1h-3zM826 729h4v1h-4zM1485 729h4v1h-4zM830 730h4v1h-4zM1482 730h3v1h-3zM834 731h3v1h-3zM1479 731h3v1h-3zM837 732h4v1h-4zM1476 732h3v1h-3zM841 733h4v1h-4zM1473 733h3v1h-3zM845 734h3v1h-3zM1470 734h3v1h-3zM848 735h5v1h-5zM1468 735h2v1h-2zM853 736h5v1h-5zM1466 736h2v1h-2zM858 737h4v1h-4zM1464 737h2v1h-2zM862 738h5v1h-5zM1462 738h2v1h-2zM867 739h4v1h-4zM1460 739h2v1h-2zM871 740h5v1h-5zM1458 740h2v1h-2zM876 741h4v1h-4zM1455 741h3v1h-3zM880 742h5v1h-5zM1451 742h4v1h-4zM885 743h5v1h-5zM1448 743h3v1h-3zM890 744h5v1h-5zM1444 744h4v1h-4zM895 745h3v1h-3zM1441 745h3v1h-3zM898 746h3v1h-3zM1437 746h4v1h-4zM901 747h2v1h-2zM1433 747h4v1h-4zM903 748h3v1h-3zM1429 748h4v1h-4zM906 749h3v1h-3zM1425 749h4v1h-4zM909 750h2v1h-2zM1418 750h7v1h-7zM911 751h4v1h-4zM1412 751h6v1h-6zM915 752h3v1h-3zM1407 752h5v1h-5zM918 753h4v1h-4zM1402 753h5v1h-5zM922 754h3v1h-3zM1397 754h5v1h-5zM925 755h4v1h-4zM1393 755h4v1h-4zM929 756h3v1h-3zM1389 756h4v1h-4zM932 757h4v1h-4zM1386 757h3v1h-3zM936 758h4v1h-4zM1383 758h3v1h-3zM940 759h3v1h-3zM1380 759h3v1h-3zM943 760h5v1h-5zM1377 760h3v1h-3zM948 761h7v1h-7zM1373 761h4v1h-4zM955 762h7v1h-7zM1369 762h4v1h-4zM962 763h10v1h-10zM1365 763h4v1h-4zM972 764h6v1h-6zM1361 764h4v1h-4zM978 765h4v1h-4zM1357 765h4v1h-4zM982 766h4v1h-4zM1353 766h4v1h-4zM986 767h4v1h-4zM1349 767h4v1h-4zM990 768h6v1h-6zM1345 768h4v1h-4zM996 769h6v1h-6zM1341 769h4v1h-4zM1002 770h6v1h-6zM1337 770h4v1h-4zM1008 771h4v1h-4zM1333 771h4v1h-4zM1012 772h4v1h-4zM1329 772h4v1h-4zM1016 773h4v1h-4zM1273 773h56v1h-56zM1020 774h4v1h-4zM1265 774h8v1h-8zM1024 775h6v1h-6zM1257 775h8v1h-8zM1030 776h6v1h-6zM1249 776h8v1h-8zM1036 777h8v1h-8zM1244 777h5v1h-5zM1044 778h12v1h-12zM1240 778h4v1h-4zM1056 779h32v1h-32zM1178 779h16v1h-16zM1236 779h4v1h-4zM1088 780h16v1h-16zM1171 780h7v1h-7zM1194 780h42v1h-42zM1104 781h16v1h-16zM1164 781h7v1h-7zM1120 782h16v1h-16zM1157 782h7v1h-7zM1136 783h21v1h-21z"/>
<path fill="#a9a9a9" d="M1 369h16v1h-16zM1 370h16v1h-16zM32 371h3v1h-3zM32 372h5v1h-5zM34 373h6v1h-6zM36 374h7v1h-7zM39 375h6v1h-6zM42 376h6v1h-6zM44 377h9v1h-9zM47 378h13v1h-13zM52 379h15v1h-15zM59 380h15v1h-15zM66 381h15v1h-15zM73 382h16v1h-16zM80 383h17v1h-17zM88 384h15v1h-15zM96 385h14v1h-14zM102 386h15v1h-15zM109 387h14v1h-14zM116 388h14v1h-14zM122 389h15v1h-15zM129 390h14v1h-14zM136 391h27v1h-27zM142 392h26v1h-26zM162 393h11v1h-11zM167 394h12v1h-12zM172 395h13v1h-13zM178 396h14v1h-14zM184 397h15v1h-15zM191 398h17v1h-17zM198 399h16v1h-16zM207 400h13v1h-13zM213 401h12v1h-12zM219 402h21v1h-21zM224 403h22v1h-22zM239 404h13v1h-13zM245 405h12v1h-12zM251 406h17v1h-17zM256 407h20v1h-20zM267 408h14v1h-14zM275 409h12v1h-12zM280 410h13v1h-13zM286 411h14v1h-14zM292 412h20v1h-20zM327 412h10v1h-10zM299 413h38v1h-38zM311 414h17v1h-17zM352 414h3v1h-3zM352 415h5v1h-5zM354 416h6v1h-6zM356 417h6v1h-6zM359 418h5v1h-5zM361 419h6v1h-6zM363 420h6v1h-6zM366 421h3v1h-3zM384 423h3v1h-3zM384 424h6v1h-6zM386 425h6v1h-6zM389 426h6v1h-6zM391 427h7v1h-7zM394 428h7v1h-7zM397 429h4v1h-4zM432 436h3v1h-3zM432 437h5v1h-5zM434 438h5v1h-5zM436 439h5v1h-5zM438 440h6v1h-6zM440 441h6v1h-6zM443 442h5v1h-5zM445 443h4v1h-4zM447 444h2v1h-2zM608 495h3v1h-3zM608 496h6v1h-6zM610 497h7v1h-7zM613 498h8v1h-8zM616 499h8v1h-8zM620 500h8v1h-8zM623 501h10v1h-10zM627 502h12v1h-12zM632 503h9v1h-9zM638 504h3v1h-3zM688 518h5v1h-5zM688 519h9v1h-9zM692 520h9v1h-9zM696 521h8v1h-8zM700 522h8v1h-8zM703 523h9v1h-9zM707 524h9v1h-9zM711 525h9v1h-9zM715 526h8v1h-8zM719 527h8v1h-8zM722 528h8v1h-8zM726 529h8v1h-8zM729 530h8v1h-8zM733 531h4v1h-4zM768 540h4v1h-4zM768 541h8v1h-8zM771 542h9v1h-9zM775 543h9v1h-9zM779 544h6v1h-6zM783 545h2v1h-2zM800 547h5v1h-5zM800 548h8v1h-8zM804 549h7v1h-7zM807 550h7v1h-7zM810 551h7v1h-7zM813 552h4v1h-4zM832 555h3v1h-3zM832 556h7v1h-7zM834 557h8v1h-8zM838 558h8v1h-8zM841 559h8v1h-8zM845 560h7v1h-7zM848 561h8v1h-8zM851 562h8v1h-8zM855 563h8v1h-8zM858 564h7v1h-7zM862 565h3v1h-3zM912 579h5v1h-5zM912 580h9v1h-9zM916 581h9v1h-9zM920 582h9v1h-9zM924 583h9v1h-9zM928 584h9v1h-9zM932 585h9v1h-9zM936 586h9v1h-9zM940 587h10v1h-10zM944 588h11v1h-11zM949 589h10v1h-10zM954 590h10v1h-10zM958 591h11v1h-11zM963 592h10v1h-10zM968 593h10v1h-10zM972 594h12v1h-12zM977 595h12v1h-12zM983 596h12v1h-12zM988 597h12v1h-12zM994 598h12v1h-12zM999 599h13v1h-13zM1005 600h14v1h-14zM1011 601h16v1h-16zM1018 602h16v1h-16zM1359 602h2v1h-2zM1026 603h15v1h-15zM1355 603h6v1h-6zM1033 604h16v1h-16zM1352 604h8v1h-8zM1040 605h16v1h-16zM1349 605h7v1h-7zM1048 606h22v1h-22zM1345 606h8v1h-8zM1055 607h31v1h-31zM1338 607h12v1h-12zM1069 608h46v1h-46zM1330 608h16v1h-16zM1085 609h84v1h-84zM1269 609h20v1h-20zM1316 609h23v1h-23zM1114 610h81v1h-81zM1239 610h92v1h-92zM1168 611h102v1h-102zM1288 611h29v1h-29zM1194 612h46v1h-46zM1423 588h2v1h-2zM1419 589h6v1h-6zM1415 590h9v1h-9zM1411 591h9v1h-9zM1406 592h10v1h-10zM1402 593h10v1h-10zM1397 594h10v1h-10zM1393 595h10v1h-10zM1389 596h9v1h-9zM1386 597h8v1h-8zM1382 598h8v1h-8zM1378 599h9v1h-9zM1376 600h7v1h-7zM1376 601h3v1h-3z"/>
<path fill="#ff0000" d="M16 369h5v1h-5zM16 370h13v1h-13zM20 371h13v1h-13zM28 372h5v1h-5zM336 412h5v1h-5zM336 413h13v1h-13zM340 414h13v1h-13zM348 415h5v1h-5zM368 421h7v1h-7zM368 422h14v1h-14zM374 423h11v1h-11zM381 424h4v1h-4zM400 429h5v1h-5zM400 430h11v1h-11zM404 431h13v1h-13zM410 432h11v1h-11zM416 433h8v1h-8zM420 434h8v1h-8zM423 435h9v1h-9zM427 436h6v1h-6zM431 437h2v1h-2zM448 443h3v1h-3zM448 444h7v1h-7zM450 445h9v1h-9zM454 446h9v1h-9zM458 447h9v1h-9zM462 448h8v1h-8zM466 449h8v1h-8zM469 450h9v1h-9zM473 451h9v1h-9zM477 452h8v1h-8zM481 453h8v1h-8zM484 454h9v1h-9zM488 455h9v1h-9zM492 456h7v1h-7zM496 457h5v1h-5zM498 458h5v1h-5zM500 459h5v1h-5zM502 460h5v1h-5zM504 461h5v1h-5zM506 462h5v1h-5zM508 463h5v1h-5zM510 464h6v1h-6zM512 465h7v1h-7zM515 466h7v1h-7zM518 467h7v1h-7zM521 468h7v1h-7zM524 469h7v1h-7zM527 470h7v1h-7zM530 471h7v1h-7zM533 472h7v1h-7zM536 473h7v1h-7zM539 474h7v1h-7zM542 475h7v1h-7zM545 476h7v1h-7zM548 477h7v1h-7zM551 478h7v1h-7zM554 479h7v1h-7zM557 480h7v1h-7zM560 481h8v1h-8zM563 482h8v1h-8zM567 483h8v1h-8zM570 484h8v1h-8zM574 485h7v1h-7zM577 486h8v1h-8zM580 487h8v1h-8zM584 488h8v1h-8zM587 489h8v1h-8zM591 490h6v1h-6zM594 491h6v1h-6zM596 492h7v1h-7zM599 493h6v1h-6zM602 494h6v1h-6zM604 495h5v1h-5zM607 496h2v1h-2zM640 503h3v1h-3zM640 504h7v1h-7zM642 505h8v1h-8zM646 506h8v1h-8zM649 507h8v1h-8zM653 508h8v1h-8zM656 509h9v1h-9zM660 510h8v1h-8zM664 511h8v1h-8zM667 512h8v1h-8zM671 513h7v1h-7zM674 514h7v1h-7zM677 515h6v1h-6zM680 516h6v1h-6zM682 517h7v1h-7zM685 518h4v1h-4zM736 531h5v1h-5zM736 532h8v1h-8zM740 533h8v1h-8zM743 534h8v1h-8zM747 535h8v1h-8zM750 536h8v1h-8zM754 537h8v1h-8zM757 538h8v1h-8zM761 539h8v1h-8zM764 540h5v1h-5zM784 544h5v1h-5zM784 545h11v1h-11zM788 546h13v1h-13zM794 547h7v1h-7zM816 552h6v1h-6zM816 553h10v1h-10zM821 554h10v1h-10zM825 555h8v1h-8zM830 556h3v1h-3zM864 564h2v1h-2zM864 565h6v1h-6zM865 566h8v1h-8zM869 567h8v1h-8zM872 568h8v1h-8zM876 569h8v1h-8zM879 570h9v1h-9zM883 571h8v1h-8zM887 572h8v1h-8zM890 573h8v1h-8zM894 574h7v1h-7zM897 575h7v1h-7zM900 576h7v1h-7zM903 577h7v1h-7zM906 578h7v1h-7zM909 579h4v1h-4z"/>
<path fill="#008000" d="M1373 600h4v1h-4zM1365 601h12v1h-12zM1360 602h14v1h-14zM1360 603h6v1h-6zM2144 119h2v1h-2zM2142 120h4v1h-4zM2141 121h4v1h-4zM2139 122h4v1h-4zM2138 123h4v1h-4zM2137 124h3v1h-3zM2135 125h4v1h-4zM2134 126h4v1h-4zM2132 127h4v1h-4zM2131 128h4v1h-4zM2129 129h4v1h-4zM2128 130h4v1h-4zM2127 131h3v1h-3zM2125 132h4v1h-4zM2124 133h4v1h-4zM2123 134h3v1h-3zM2122 135h3v1h-3zM2121 136h3v1h-3zM2119 137h4v1h-4zM2118 138h4v1h-4zM2117 139h3v1h-3zM2116 140h3v1h-3zM2114 141h4v1h-4zM2113 142h4v1h-4zM2112 143h3v1h-3zM2111 144h3v1h-3zM2109 145h4v1h-4zM2108 146h4v1h-4zM2107 147h3v1h-3zM2105 148h4v1h-4zM2104 149h4v1h-4zM2103 150h3v1h-3zM2101 151h4v1h-4zM2100 152h4v1h-4zM2099 153h3v1h-3zM2097 154h4v1h-4zM2096 155h4v1h-4zM2095 156h3v1h-3zM2093 157h4v1h-4zM2092 158h4v1h-4zM2091 159h3v1h-3zM2090 160h3v1h-3zM2089 161h3v1h-3zM2087 162h4v1h-4zM2086 163h4v1h-4zM2085 164h3v1h-3zM2084 165h3v1h-3zM2082 166h4v1h-4zM2081 167h4v1h-4zM2080 168h3v1h-3zM2079 169h3v1h-3zM2077 170h4v1h-4zM2076 171h4v1h-4zM2075 172h3v1h-3zM2073 173h4v1h-4zM2072 174h4v1h-4zM2071 175h3v1h-3zM2069 176h4v1h-4zM2068 177h4v1h-4zM2067 178h3v1h-3zM2065 179h4v1h-4zM2064 180h4v1h-4zM2063 181h3v1h-3zM2061 182h4v1h-4zM2060 183h4v1h-4zM2059 184h3v1h-3zM2057 185h4v1h-4zM2056 186h4v1h-4zM2055 187h3v1h-3zM2053 188h4v1h-4zM2052 189h4v1h-4zM2051 190h3v1h-3zM2049 191h4v1h-4zM2048 192h4v1h-4zM2046 193h4v1h-4zM2045 194h4v1h-4zM2044 195h3v1h-3zM2042 196h4v1h-4zM2041 197h4v1h-4zM2040 198h3v1h-3zM2038 199h4v1h-4zM2037 200h4v1h-4zM2036 201h3v1h-3zM2034 202h4v1h-4zM2033 203h4v1h-4zM2032 204h3v1h-3zM2030 205h4v1h-4zM2029 206h4v1h-4zM2028 207h3v1h-3zM2027 208h3v1h-3zM2026 209h3v1h-3zM2024 210h4v1h-4zM2023 211h4v1h-4zM2022 212h3v1h-3zM2021 213h3v1h-3zM2020 214h3v1h-3zM2018 215h4v1h-4zM2017 216h4v1h-4zM2016 217h3v1h-3zM2015 218h3v1h-3zM2014 219h3v1h-3zM2013 220h3v1h-3zM2011 221h4v1h-4zM2010 222h4v1h-4zM2009 223h3v1h-3zM2008 224h3v1h-3zM2007 225h3v1h-3zM2006 226h3v1h-3zM2005 227h3v1h-3zM2003 228h4v1h-4zM2002 229h4v1h-4zM2001 230h3v1h-3zM2000 231h3v1h-3zM1999 232h3v1h-3zM1997 233h4v1h-4zM1996 234h4v1h-4zM1995 235h3v1h-3zM1993 236h4v1h-4zM1992 237h4v1h-4zM1991 238h3v1h-3zM1989 239h4v1h-4zM1988 240h4v1h-4zM1987 241h3v1h-3zM1985 242h4v1h-4zM1984 243h4v1h-4zM1983 244h3v1h-3zM1982 245h3v1h-3zM1981 246h3v1h-3zM1979 247h4v1h-4zM1978 248h4v1h-4zM1977 249h3v1h-3zM1976 250h3v1h-3zM1975 251h3v1h-3zM1974 252h3v1h-3zM1973 253h3v1h-3zM1971 254h4v1h-4zM1970 255h4v1h-4zM1969 256h3v1h-3zM1968 257h3v1h-3zM1967 258h3v1h-3zM1965 259h4v1h-4zM1964 260h4v1h-4zM1963 261h3v1h-3zM1962 262h3v1h-3zM1961 263h3v1h-3zM1959 264h4v1h-4zM1958 265h4v1h-4zM1957 266h3v1h-3zM1956 267h3v1h-3zM1954 268h4v1h-4zM1953 269h4v1h-4zM1952 270h3v1h-3zM1951 271h3v1h-3zM1949 272h4v1h-4zM1948 273h4v1h-4zM1947 274h3v1h-3zM1946 275h3v1h-3zM1945 276h3v1h-3zM1943 277h4v1h-4zM1942 278h4v1h-4zM1941 279h3v1h-3zM1940 280h3v1h-3zM1938 281h4v1h-4zM1937 282h4v1h-4zM1936 283h3v1h-3zM1935 284h3v1h-3zM1933 285h4v1h-4zM1932 286h4v1h-4zM1931 287h3v1h-3zM1930 288h3v1h-3zM1928 289h4v1h-4zM1927 290h4v1h-4zM1926 291h3v1h-3zM1924 292h4v1h-4zM1923 293h4v1h-4zM1922 294h3v1h-3zM1921 295h3v1h-3zM1919 296h4v1h-4zM1918 297h4v1h-4zM1917 298h3v1h-3zM1916 299h3v1h-3zM1915 300h3v1h-3zM1914 301h3v1h-3zM1913 302h3v1h-3zM1912 303h3v1h-3zM1910 304h4v1h-4zM1909 305h4v1h-4zM1908 306h3v1h-3zM1907 307h3v1h-3zM1906 308h3v1h-3zM1905 309h3v1h-3zM1904 310h3v1h-3zM1902 311h4v1h-4zM1901 312h4v1h-4zM1900 313h3v1h-3zM1899 314h3v1h-3zM1897 315h4v1h-4zM1896 316h4v1h-4zM1895 317h3v1h-3zM1894 318h3v1h-3zM1892 319h4v1h-4zM1891 320h4v1h-4zM1890 321h3v1h-3zM1889 322h3v1h-3zM1887 323h4v1h-4zM1886 324h4v1h-4zM1885 325h3v1h-3zM1883 326h4v1h-4zM1882 327h4v1h-4zM1881 328h3v1h-3zM1880 329h3v1h-3zM1878 330h4v1h-4zM1877 331h4v1h-4zM1876 332h3v1h-3zM1874 333h4v1h-4zM1873 334h4v1h-4zM1872 335h3v1h-3zM1871 336h3v1h-3zM1869 337h4v1h-4zM1868 338h4v1h-4zM1867 339h3v1h-3zM1865 340h4v1h-4zM1864 341h4v1h-4zM1863 342h3v1h-3zM1862 343h3v1h-3zM1860 344h4v1h-4zM1859 345h4v1h-4zM1858 346h3v1h-3zM1857 347h3v1h-3zM1855 348h4v1h-4zM1854 349h4v1h-4zM1853 350h3v1h-3zM1851 351h4v1h-4zM1850 352h4v1h-4zM1849 353h3v1h-3zM1848 354h3v1h-3zM1846 355h4v1h-4zM1845 356h4v1h-4zM1844 357h3v1h-3zM1842 358h4v1h-4zM1841 359h4v1h-4zM1840 360h3v1h-3zM1839 361h3v1h-3zM1837 362h4v1h-4zM1836 363h4v1h-4zM1835 364h3v1h-3zM1834 365h3v1h-3zM1833 366h3v1h-3zM1831 367h4v1h-4zM1830 368h4v1h-4zM1829 369h3v1h-3zM1828 370h3v1h-3zM1826 371h4v1h-4zM1825 372h4v1h-4zM1824 373h3v1h-3zM1823 374h3v1h-3zM1821 375h4v1h-4zM1820 376h4v1h-4zM1819 377h3v1h-3zM1818 378h3v1h-3zM1817 379h3v1h-3zM1815 380h4v1h-4zM1814 381h4v1h-4zM1813 382h3v1h-3zM1812 383h3v1h-3zM1810 384h4v1h-4zM1809 385h4v1h-4zM1808 386h3v1h-3zM1806 387h4v1h-4zM1805 388h4v1h-4zM1803 389h4v1h-4zM1801 390h5v1h-5zM1800 391h4v1h-4zM1798 392h4v1h-4zM1797 393h4v1h-4zM1795 394h4v1h-4zM1793 395h5v1h-5zM1792 396h4v1h-4zM1790 397h4v1h-4zM1789 398h4v1h-4zM1788 399h3v1h-3zM1786 400h4v1h-4zM1785 401h4v1h-4zM1783 402h4v1h-4zM1782 403h4v1h-4zM1781 404h3v1h-3zM1779 405h4v1h-4zM1778 406h4v1h-4zM1777 407h3v1h-3zM1775 408h4v1h-4zM1774 409h4v1h-4zM1773 410h3v1h-3zM1772 411h3v1h-3zM1770 412h4v1h-4zM1769 413h4v1h-4zM1768 414h3v1h-3zM1767 415h3v1h-3zM1765 416h4v1h-4zM1764 417h4v1h-4zM1763 418h3v1h-3zM1762 419h3v1h-3zM1761 420h3v1h-3zM1759 421h4v1h-4zM1758 422h4v1h-4zM1756 423h4v1h-4zM1755 424h4v1h-4zM1754 425h3v1h-3zM1752 426h4v1h-4zM1751 427h4v1h-4zM1749 428h4v1h-4zM1748 429h4v1h-4zM1747 430h3v1h-3zM1745 431h4v1h-4zM1744 432h4v1h-4zM1743 433h3v1h-3zM1741 434h4v1h-4zM1740 435h4v1h-4zM1739 436h3v1h-3zM1737 437h4v1h-4zM1736 438h4v1h-4zM1735 439h3v1h-3zM1733 440h4v1h-4zM1732 441h4v1h-4zM1731 442h3v1h-3zM1729 443h4v1h-4zM1728 444h4v1h-4zM1726 445h4v1h-4zM1725 446h4v1h-4zM1723 447h4v1h-4zM1722 448h4v1h-4zM1720 449h4v1h-4zM1719 450h4v1h-4zM1717 451h4v1h-4zM1716 452h4v1h-4zM1714 453h4v1h-4zM1713 454h4v1h-4zM1711 455h4v1h-4zM1710 456h4v1h-4zM1708 457h4v1h-4zM1707 458h4v1h-4zM1705 459h4v1h-4zM1703 460h5v1h-5zM1702 461h4v1h-4zM1700 462h4v1h-4zM1699 463h4v1h-4zM1697 464h4v1h-4zM1696 465h4v1h-4zM1695 466h3v1h-3zM1694 467h3v1h-3zM1693 468h3v1h-3zM1691 469h4v1h-4zM1690 470h4v1h-4zM1689 471h3v1h-3zM1688 472h3v1h-3zM1687 473h3v1h-3zM1686 474h3v1h-3zM1685 475h3v1h-3zM1683 476h4v1h-4zM1682 477h4v1h-4zM1681 478h3v1h-3zM1680 479h3v1h-3zM1678 480h4v1h-4zM1676 481h5v1h-5zM1674 482h5v1h-5zM1672 483h5v1h-5zM1670 484h5v1h-5zM1668 485h5v1h-5zM1666 486h5v1h-5zM1664 487h5v1h-5zM1662 488h5v1h-5zM1660 489h5v1h-5zM1658 490h5v1h-5zM1656 491h5v1h-5zM1654 492h5v1h-5zM1652 493h5v1h-5zM1650 494h5v1h-5zM1648 495h5v1h-5zM1646 496h5v1h-5zM1644 497h5v1h-5zM1642 498h5v1h-5zM1641 499h4v1h-4zM1639 500h4v1h-4zM1637 501h5v1h-5zM1635 502h5v1h-5zM1633 503h5v1h-5zM1631 504h5v1h-5zM1629 505h5v1h-5zM1628 506h4v1h-4zM1626 507h4v1h-4zM1625 508h4v1h-4zM1623 509h4v1h-4zM1621 510h5v1h-5zM1620 511h4v1h-4zM1618 512h4v1h-4zM1617 513h4v1h-4zM1615 514h4v1h-4zM1613 515h5v1h-5zM1611 516h5v1h-5zM1609 517h5v1h-5zM1607 518h5v1h-5zM1605 519h5v1h-5zM1603 520h5v1h-5zM1601 521h5v1h-5zM1598 522h6v1h-6zM1596 523h6v1h-6zM1594 524h5v1h-5zM1592 525h5v1h-5zM1590 526h5v1h-5zM1588 527h5v1h-5zM1586 528h5v1h-5zM1583 529h6v1h-6zM1581 530h6v1h-6zM1579 531h5v1h-5zM1577 532h5v1h-5zM1574 533h6v1h-6zM1572 534h6v1h-6zM1570 535h5v1h-5zM1567 536h6v1h-6zM1565 537h6v1h-6zM1563 538h5v1h-5zM1561 539h5v1h-5zM1558 540h6v1h-6zM1556 541h6v1h-6zM1554 542h5v1h-5zM1552 543h5v1h-5zM1550 544h5v1h-5zM1548 545h5v1h-5zM1546 546h5v1h-5zM1544 547h5v1h-5zM1542 548h5v1h-5zM1540 549h5v1h-5zM1538 550h5v1h-5zM1535 551h6v1h-6zM1533 552h6v1h-6zM1530 553h6v1h-6zM1527 554h7v1h-7zM1525 555h6v1h-6zM1522 556h6v1h-6zM1519 557h7v1h-7zM1517 558h6v1h-6zM1514 559h6v1h-6zM1511 560h7v1h-7zM1509 561h6v1h-6zM1506 562h6v1h-6zM1503 563h7v1h-7zM1501 564h6v1h-6zM1498 565h6v1h-6zM1495 566h7v1h-7zM1493 567h6v1h-6zM1490 568h6v1h-6zM1487 569h7v1h-7zM1485 570h6v1h-6zM1482 571h6v1h-6zM1480 572h6v1h-6zM1478 573h5v1h-5zM1475 574h6v1h-6zM1473 575h6v1h-6zM1470 576h6v1h-6zM1467 577h7v1h-7zM1464 578h7v1h-7zM1461 579h7v1h-7zM1458 580h7v1h-7zM1455 581h7v1h-7zM1452 582h7v1h-7zM1449 583h7v1h-7zM1445 584h8v1h-8zM1442 585h8v1h-8zM1437 586h9v1h-9zM1429 587h14v1h-14zM1424 588h14v1h-14zM1424 589h6v1h-6z"/>
<path fill="#ff0000" d="M1 929h1v21h-1zM14 929h4v21h-4zM30 929h4v19h-4zM350 929h4v46h-4zM366 929h4v21h-4zM398 929h4v19h-4zM430 929h4v29h-4zM1838 929h4v35h-4zM1950 929h4v62h-4zM1982 929h4v56h-4zM1998 929h4v54h-4zM2046 929h4v51h-4zM2062 929h4v43h-4zM2110 929h4v50h-4zM2142 929h4v42h-4z"/>
<path fill="#a9a9a9" d="M46 929h4v1h-4zM446 929h4v1h-4zM1742 929h4v1h-4z"/>
<path fill="#00ff00" d="M62 919h4v10h-4zM78 909h4v20h-4zM110 910h4v19h-4zM126 905h4v24h-4zM158 905h4v24h-4zM222 920h4v9h-4zM510 921h4v8h-4zM542 917h4v12h-4zM558 896h4v33h-4zM574 882h4v47h-4zM590 879h4v50h-4zM606 876h4v53h-4zM654 896h4v33h-4zM686 897h4v32h-4zM702 892h4v37h-4zM734 890h4v39h-4zM766 894h4v35h-4zM782 887h4v42h-4zM814 899h4v30h-4zM846 902h4v27h-4zM862 897h4v32h-4zM878 897h4v32h-4zM894 890h4v39h-4zM910 882h4v47h-4zM974 904h4v25h-4zM1022 901h4v28h-4zM1038 895h4v34h-4zM1054 894h4v35h-4zM1118 902h4v27h-4zM1150 905h4v24h-4zM1198 895h4v34h-4zM1214 854h4v75h-4zM1278 879h4v50h-4zM1294 864h4v65h-4zM1310 863h4v66h-4zM1342 869h4v60h-4zM1422 911h4v18h-4zM1438 908h4v21h-4zM1454 906h4v23h-4zM1502 919h4v10h-4zM1518 906h4v23h-4zM1534 906h4v23h-4zM1550 905h4v24h-4zM1598 911h4v18h-4zM1614 907h4v22h-4zM1630 901h4v28h-4zM1646 899h4v30h-4zM1662 896h4v33h-4zM1678 887h4v42h-4zM1710 913h4v16h-4z"/>
<path fill="#3cb371" d="M94 914h4v15h-4zM142 908h4v21h-4zM174 912h4v17h-4zM190 918h4v11h-4zM622 888h4v41h-4zM638 904h4v25h-4zM670 906h4v23h-4zM718 895h4v34h-4zM750 899h4v30h-4zM798 900h4v29h-4zM830 902h4v27h-4zM926 899h4v30h-4zM942 902h4v27h-4zM958 907h4v22h-4zM990 905h4v24h-4zM1006 908h4v21h-4zM1070 897h4v32h-4zM1086 899h4v30h-4zM1102 905h4v24h-4zM1134 909h4v20h-4zM1166 911h4v18h-4zM1182 911h4v18h-4zM1230 859h4v70h-4zM1246 879h4v50h-4zM1262 881h4v48h-4zM1326 879h4v50h-4zM1358 882h4v47h-4zM1374 883h4v46h-4zM1390 903h4v26h-4zM1406 914h4v15h-4zM1470 911h4v18h-4zM1486 920h4v9h-4zM1566 919h4v10h-4zM1694 914h4v15h-4zM1726 918h4v11h-4z"/>
<path fill="#a9a9a9" d="M206 924h4v5h-4zM238 926h4v3h-4zM254 923h4v6h-4zM478 929h4v4h-4zM494 927h4v2h-4zM526 926h4v3h-4zM1582 922h4v7h-4z"/>
<path fill="#ffa500" d="M270 929h4v9h-4zM286 929h4v13h-4zM302 929h4v19h-4zM318 929h4v25h-4zM334 929h4v53h-4zM382 929h4v24h-4zM414 929h4v30h-4zM462 929h4v12h-4zM1758 929h4v13h-4zM1774 929h4v16h-4zM1790 929h4v28h-4zM1806 929h4v30h-4zM1822 929h4v38h-4zM1854 929h4v37h-4zM1870 929h4v38h-4zM1886 929h4v44h-4zM1902 929h4v52h-4zM1918 929h4v55h-4zM1934 929h4v64h-4zM1966 929h4v64h-4zM2014 929h4v55h-4zM2030 929h4v61h-4zM2078 929h4v52h-4zM2094 929h4v53h-4zM2126 929h4v51h-4z"/>
<path fill="#c0c0c0" d="M1 929h2v1h-2zM6 929h3v1h-3zM12 929h3v1h-3zM18 929h3v1h-3zM24 929h3v1h-3zM30 929h3v1h-3zM36 929h3v1h-3zM42 929h3v1h-3zM48 929h3v1h-3zM54 929h3v1h-3zM60 929h3v1h-3zM66 929h3v1h-3zM72 929h3v1h-3zM78 929h3v1h-3zM84 929h3v1h-3zM90 929h3v1h-3zM96 929h3v1h-3zM102 929h3v1h-3zM108 929h3v1h-3zM114 929h3v1h-3zM120 929h3v1h-3zM126 929h3v1h-3zM132 929h3v1h-3zM138 929h3v1h-3zM144 929h3v1h-3zM150 929h3v1h-3zM156 929h3v1h-3zM162 929h3v1h-3zM168 929h3v1h-3zM174 929h3v1h-3zM180 929h3v1h-3zM186 929h3v1h-3zM192 929h3v1h-3zM198 929h3v1h-3zM204 929h3v1h-3zM210 929h3v1h-3zM216 929h3v1h-3zM222 929h3v1h-3zM228 929h3v1h-3zM234 929h3v1h-3zM240 929h3v1h-3zM246 929h3v1h-3zM252 929h3v1h-3zM258 929h3v1h-3zM264 929h3v1h-3zM270 929h3v1h-3zM276 929h3v1h-3zM282 929h3v1h-3zM288 929h3v1h-3zM294 929h3v1h-3zM300 929h3v1h-3zM306 929h3v1h-3zM312 929h3v1h-3zM318 929h3v1h-3zM324 929h3v1h-3zM330 929h3v1h-3zM336 929h3v1h-3zM342 929h3v1h-3zM348 929h3v1h-3zM354 929h3v1h-3zM360 929h3v1h-3zM366 929h3v1h-3zM372 929h3v1h-3zM378 929h3v1h-3zM384 929h3v1h-3zM390 929h3v1h-3zM396 929h3v1h-3zM402 929h3v1h-3zM408 929h3v1h-3zM414 929h3v1h-3zM420 929h3v1h-3zM426 929h3v1h-3zM432 929h3v1h-3zM438 929h3v1h-3zM444 929h3v1h-3zM450 929h3v1h-3zM456 929h3v1h-3zM462 929h3v1h-3zM468 929h3v1h-3zM474 929h3v1h-3zM480 929h3v1h-3zM486 929h3v1h-3zM492 929h3v1h-3zM498 929h3v1h-3zM504 929h3v1h-3zM510 929h3v1h-3zM516 929h3v1h-3zM522 929h3v1h-3zM528 929h3v1h-3zM534 929h3v1h-3zM540 929h3v1h-3zM546 929h3v1h-3zM552 929h3v1h-3zM558 929h3v1h-3zM564 929h3v1h-3zM570 929h3v1h-3zM576 929h3v1h-3zM582 929h3v1h-3zM588 929h3v1h-3zM594 929h3v1h-3zM600 929h3v1h-3zM606 929h3v1h-3zM612 929h3v1h-3zM618 929h3v1h-3zM624 929h3v1h-3zM630 929h3v1h-3zM636 929h3v1h-3zM642 929h3v1h-3zM648 929h3v1h-3zM654 929h3v1h-3zM660 929h3v1h-3zM666 929h3v1h-3zM672 929h3v1h-3zM678 929h3v1h-3zM684 929h3v1h-3zM690 929h3v1h-3zM696 929h3v1h-3zM702 929h3v1h-3zM708 929h3v1h-3zM714 929h3v1h-3zM720 929h3v1h-3zM726 929h3v1h-3zM732 929h3v1h-3zM738 929h3v1h-3zM744 929h3v1h-3zM750 929h3v1h-3zM756 929h3v1h-3zM762 929h3v1h-3zM768 929h3v1h-3zM774 929h3v1h-3zM780 929h3v1h-3zM786 929h3v1h-3zM792 929h3v1h-3zM798 929h3v1h-3zM804 929h3v1h-3zM810 929h3v1h-3zM816 929h3v1h-3zM822 929h3v1h-3zM828 929h3v1h-3zM834 929h3v1h-3zM840 929h3v1h-3zM846 929h3v1h-3zM852 929h3v1h-3zM858 929h3v1h-3zM864 929h3v1h-3zM870 929h3v1h-3zM876 929h3v1h-3zM882 929h3v1h-3zM888 929h3v1h-3zM894 929h3v1h-3zM900 929h3v1h-3zM906 929h3v1h-3zM912 929h3v1h-3zM918 929h3v1h-3zM924 929h3v1h-3zM930 929h3v1h-3zM936 929h3v1h-3zM942 929h3v1h-3zM948 929h3v1h-3zM954 929h3v1h-3zM960 929h3v1h-3zM966 929h3v1h-3zM972 929h3v1h-3zM978 929h3v1h-3zM984 929h3v1h-3zM990 929h3v1h-3zM996 929h3v1h-3zM1002 929h3v1h-3zM1008 929h3v1h-3zM1014 929h3v1h-3zM1020 929h3v1h-3zM1026 929h3v1h-3zM1032 929h3v1h-3zM1038 929h3v1h-3zM1044 929h3v1h-3zM1050 929h3v1h-3zM1056 929h3v1h-3zM1062 929h3v1h-3zM1068 929h3v1h-3zM1074 929h3v1h-3zM1080 929h3v1h-3zM1086 929h3v1h-3zM1092 929h3v1h-3zM1098 929h3v1h-3zM1104 929h3v1h-3zM1110 929h3v1h-3zM1116 929h3v1h-3zM1122 929h3v1h-3zM1128 929h3v1h-3zM1134 929h3v1h-3zM1140 929h3v1h-3zM1146 929h3v1h-3zM1152 929h3v1h-3zM1158 929h3v1h-3zM1164 929h3v1h-3zM1170 929h3v1h-3zM1176 929h3v1h-3zM1182 929h3v1h-3zM1188 929h3v1h-3zM1194 929h3v1h-3zM1200 929h3v1h-3zM1206 929h3v1h-3zM1212 929h3v1h-3zM1218 929h3v1h-3zM1224 929h3v1h-3zM1230 929h3v1h-3zM1236 929h3v1h-3zM1242 929h3v1h-3zM1248 929h3v1h-3zM1254 929h3v1h-3zM1260 929h3v1h-3zM1266 929h3v1h-3zM1272 929h3v1h-3zM1278 929h3v1h-3zM1284 929h3v1h-3zM1290 929h3v1h-3zM1296 929h3v1h-3zM1302 929h3v1h-3zM1308 929h3v1h-3zM1314 929h3v1h-3zM1320 929h3v1h-3zM1326 929h3v1h-3zM1332 929h3v1h-3zM1338 929h3v1h-3zM1344 929h3v1h-3zM1350 929h3v1h-3zM1356 929h3v1h-3zM1362 929h3v1h-3zM1368 929h3v1h-3zM1374 929h3v1h-3zM1380 929h3v1h-3zM1386 929h3v1h-3zM1392 929h3v1h-3zM1398 929h3v1h-3zM1404 929h3v1h-3zM1410 929h3v1h-3zM1416 929h3v1h-3zM1422 929h3v1h-3zM1428 929h3v1h-3zM1434 929h3v1h-3zM1440 929h3v1h-3zM1446 929h3v1h-3zM1452 929h3v1h-3zM1458 929h3v1h-3zM1464 929h3v1h-3zM1470 929h3v1h-3zM1476 929h3v1h-3zM1482 929h3v1h-3zM1488 929h3v1h-3zM1494 929h3v1h-3zM1500 929h3v1h-3zM1506 929h3v1h-3zM1512 929h3v1h-3zM1518 929h3v1h-3zM1524 929h3v1h-3zM1530 929h3v1h-3zM1536 929h3v1h-3zM1542 929h3v1h-3zM1548 929h3v1h-3zM1554 929h3v1h-3zM1560 929h3v1h-3zM1566 929h3v1h-3zM1572 929h3v1h-3zM1578 929h3v1h-3zM1584 929h3v1h-3zM1590 929h3v1h-3zM1596 929h3v1h-3zM1602 929h3v1h-3zM1608 929h3v1h-3zM1614 929h3v1h-3zM1620 929h3v1h-3zM1626 929h3v1h-3zM1632 929h3v1h-3zM1638 929h3v1h-3zM1644 929h3v1h-3zM1650 929h3v1h-3zM1656 929h3v1h-3zM1662 929h3v1h-3zM1668 929h3v1h-3zM1674 929h3v1h-3zM1680 929h3v1h-3zM1686 929h3v1h-3zM1692 929h3v1h-3zM1698 929h3v1h-3zM1704 929h3v1h-3zM1710 929h3v1h-3zM1716 929h3v1h-3zM1722 929h3v1h-3zM1728 929h3v1h-3zM1734 929h3v1h-3zM1740 929h3v1h-3zM1746 929h3v1h-3zM1752 929h3v1h-3zM1758 929h3v1h-3zM1764 929h3v1h-3zM1770 929h3v1h-3zM1776 929h3v1h-3zM1782 929h3v1h-3zM1788 929h3v1h-3zM1794 929h3v1h-3zM1800 929h3v1h-3zM1806 929h3v1h-3zM1812 929h3v1h-3zM1818 929h3v1h-3zM1824 929h3v1h-3zM1830 929h3v1h-3zM1836 929h3v1h-3zM1842 929h3v1h-3zM1848 929h3v1h-3zM1854 929h3v1h-3zM1860 929h3v1h-3zM1866 929h3v1h-3zM1872 929h3v1h-3zM1878 929h3v1h-3zM1884 929h3v1h-3zM1890 929h3v1h-3zM1896 929h3v1h-3zM1902 929h3v1h-3zM1908 929h3v1h-3zM1914 929h3v1h-3zM1920 929h3v1h-3zM1926 929h3v1h-3zM1932 929h3v1h-3zM1938 929h3v1h-3zM1944 929h3v1h-3zM1950 929h3v1h-3zM1956 929h3v1h-3zM1962 929h3v1h-3zM1968 929h3v1h-3zM1974 929h3v1h-3zM1980 929h3v1h-3zM1986 929h3v1h-3zM1992 929h3v1h-3zM1998 929h3v1h-3zM2004 929h3v1h-3zM2010 929h3v1h-3zM2016 929h3v1h-3zM2022 929h3v1h-3zM2028 929h3v1h-3zM2034 929h3v1h-3zM2040 929h3v1h-3zM2046 929h3v1h-3zM2052 929h3v1h-3zM2058 929h3v1h-3zM2064 929h3v1h-3zM2070 929h3v1h-3zM2076 929h3v1h-3zM2082 929h3v1h-3zM2088 929h3v1h-3zM2094 929h3v1h-3zM2100 929h3v1h-3zM2106 929h3v1h-3zM2112 929h3v1h-3zM2118 929h3v1h-3zM2124 929h3v1h-3zM2130 929h3v1h-3zM2136 929h3v1h-3zM2142 929h3v1h-3z"/>
<path fill="#000" d="M0 2h2148v1h-2148zM0 2h1v836h-1zM0 839h1v170h-1zM2147 2h1v836h-1zM0 837h2148v1h-2148zM0 839h2148v1h-2148zM2147 839h1v170h-1zM0 1008h2148v1h-2148zM2148 18h4v1h-4zM2148 51h4v1h-4zM2148 84h4v1h-4zM2148 117h4v1h-4zM2148 149h4v1h-4zM2148 182h4v1h-4zM2148 215h4v1h-4zM2148 248h4v1h-4zM2148 280h4v1h-4zM2148 313h4v1h-4zM2148 346h4v1h-4zM2148 379h4v1h-4zM2148 411h4v1h-4zM2148 444h4v1h-4zM2148 477h4v1h-4zM2148 510h4v1h-4zM2148 542h4v1h-4zM2148 575h4v1h-4zM2148 608h4v1h-4zM2148 641h4v1h-4zM2148 673h4v1h-4zM2148 706h4v1h-4zM2148 739h4v1h-4zM2148 772h4v1h-4zM2148 804h4v1h-4zM2148 840h4v1h-4zM2148 929h4v1h-4zM2148 1007h4v1h-4zM64 1009h1v4h-1zM128 1009h1v4h-1zM192 1009h1v4h-1zM256 1009h1v4h-1zM320 1009h1v4h-1zM384 1009h1v4h-1zM448 1009h1v4h-1zM512 1009h1v4h-1zM576 1009h1v4h-1zM640 1009h1v4h-1zM704 1009h1v4h-1zM768 1009h1v4h-1zM832 1009h1v4h-1zM896 1009h1v4h-1zM960 1009h1v4h-1zM1024 1009h1v4h-1zM1088 1009h1v4h-1zM1152 1009h1v4h-1zM1216 1009h1v4h-1zM1280 1009h1v4h-1zM1344 1009h1v4h-1zM1408 1009h1v4h-1zM1472 1009h1v4h-1zM1536 1009h1v4h-1zM1600 1009h1v4h-1zM1664 1009h1v4h-1zM1728 1009h1v4h-1zM1792 1009h1v4h-1zM1856 1009h1v4h-1zM1920 1009h1v4h-1zM1984 1009h1v4h-1zM2048 1009h1v4h-1zM2112 1009h1v4h-1z"/>
</g>
<g shape-rendering="crispEdges">
<rect x="6" y="9" width="6" height="10" fill="#fdeae4"/><rect x="12" y="9" width="7" height="10" fill="#cfeafc"/>
<path fill="#dc3c30" d="M6 8h6v1h-6zM5 9h1v9h-1zM6 18h6v1h-6zM7 10h5v1h-5zM7 13h5v1h-5zM7 16h5v1h-5z"/>
<path fill="#1565b0" d="M12 8h7v1h-7zM19 9h1v9h-1zM12 18h7v1h-7zM13 10h5v1h-5zM13 13h5v1h-5zM13 16h5v1h-5z"/>
</g>
<circle cx="444.7" cy="266.5" r="27.2" fill="none" stroke="#000" stroke-width="2.3"/>
<text class="t" x="25.6" y="17.0" textLength="182.2" lengthAdjust="spacingAndGlyphs">GBPUSD, H4:  Pound Sterling vs US Dollar</text>
<text class="t" x="3.8" y="852" textLength="127.4" lengthAdjust="spacingAndGlyphs">MDI (13,55,2) -3375696.33557</text>
<text transform="scale(1.08,1)" x="442.89 468.66 490.81 502.01" y="281.7" style="font-family:'Liberation Sans',sans-serif;font-weight:bold;font-size:36px;stroke:#000;stroke-width:1.6px">Sell</text>
<text class="wa" transform="translate(3.6,1003.9) scale(0.895,1)" x="0" y="0">@</text>
<text transform="scale(1.14,1)" x="24.08 36.03 48.16 56.27 67.98 80.42 97.57 110.96 123.40 129.54 141.75 154.50 161.32 173.09 185.66 193.07 205.61 214.17 225.55 232.11 243.73 256.49" y="1003.4" style="font-family:'Liberation Sans',sans-serif;font-weight:bold;font-size:19.6px;stroke:#000;stroke-width:1.0px">ForexMT4Indicators.com</text>
<text class="ax" x="2153" y="22.0" textLength="32.4" lengthAdjust="spacingAndGlyphs">1.28600</text>
<text class="ax" x="2153" y="55.0" textLength="32.4" lengthAdjust="spacingAndGlyphs">1.28500</text>
<text class="ax" x="2153" y="88.0" textLength="32.4" lengthAdjust="spacingAndGlyphs">1.28400</text>
<text class="ax" x="2153" y="121.0" textLength="32.4" lengthAdjust="spacingAndGlyphs">1.28300</text>
<text class="ax" x="2153" y="153.0" textLength="32.4" lengthAdjust="spacingAndGlyphs">1.28200</text>
<text class="ax" x="2153" y="186.0" textLength="32.4" lengthAdjust="spacingAndGlyphs">1.28100</text>
<text class="ax" x="2153" y="219.0" textLength="32.4" lengthAdjust="spacingAndGlyphs">1.28000</text>
<text class="ax" x="2153" y="252.0" textLength="32.4" lengthAdjust="spacingAndGlyphs">1.27900</text>
<text class="ax" x="2153" y="284.0" textLength="32.4" lengthAdjust="spacingAndGlyphs">1.27800</text>
<text class="ax" x="2153" y="317.0" textLength="32.4" lengthAdjust="spacingAndGlyphs">1.27700</text>
<text class="ax" x="2153" y="350.0" textLength="32.4" lengthAdjust="spacingAndGlyphs">1.27600</text>
<text class="ax" x="2153" y="383.0" textLength="32.4" lengthAdjust="spacingAndGlyphs">1.27500</text>
<text class="ax" x="2153" y="415.0" textLength="32.4" lengthAdjust="spacingAndGlyphs">1.27400</text>
<text class="ax" x="2153" y="448.0" textLength="32.4" lengthAdjust="spacingAndGlyphs">1.27300</text>
<text class="ax" x="2153" y="481.0" textLength="32.4" lengthAdjust="spacingAndGlyphs">1.27200</text>
<text class="ax" x="2153" y="514.0" textLength="32.4" lengthAdjust="spacingAndGlyphs">1.27100</text>
<text class="ax" x="2153" y="546.0" textLength="32.4" lengthAdjust="spacingAndGlyphs">1.27000</text>
<text class="ax" x="2153" y="579.0" textLength="32.4" lengthAdjust="spacingAndGlyphs">1.26900</text>
<text class="ax" x="2153" y="612.0" textLength="32.4" lengthAdjust="spacingAndGlyphs">1.26800</text>
<text class="ax" x="2153" y="645.0" textLength="32.4" lengthAdjust="spacingAndGlyphs">1.26700</text>
<text class="ax" x="2153" y="677.0" textLength="32.4" lengthAdjust="spacingAndGlyphs">1.26600</text>
<text class="ax" x="2153" y="710.0" textLength="32.4" lengthAdjust="spacingAndGlyphs">1.26500</text>
<text class="ax" x="2153" y="743.0" textLength="32.4" lengthAdjust="spacingAndGlyphs">1.26400</text>
<text class="ax" x="2153" y="776.0" textLength="32.4" lengthAdjust="spacingAndGlyphs">1.26300</text>
<text class="ax" x="2153" y="808.0" textLength="32.4" lengthAdjust="spacingAndGlyphs">1.26200</text>
<text class="ax" x="2153" y="848.0" textLength="47.2" lengthAdjust="spacingAndGlyphs">2173249.49</text>
<text class="ax" x="2153" y="933.0" textLength="32.4" lengthAdjust="spacingAndGlyphs">0.00000</text>
<text class="ax" x="2153" y="1006.0" textLength="50.5" lengthAdjust="spacingAndGlyphs">-1894783.05</text>
<text class="ax" x="-0.5" y="1021.0" textLength="44.2" lengthAdjust="spacingAndGlyphs">7 Jun 2024</text>
<text class="ax" x="63.5" y="1021.0" textLength="47.4" lengthAdjust="spacingAndGlyphs">7 Jun 16:00</text>
<text class="ax" x="127.5" y="1021.0" textLength="52.4" lengthAdjust="spacingAndGlyphs">10 Jun 08:00</text>
<text class="ax" x="191.5" y="1021.0" textLength="52.4" lengthAdjust="spacingAndGlyphs">11 Jun 00:00</text>
<text class="ax" x="255.5" y="1021.0" textLength="52.4" lengthAdjust="spacingAndGlyphs">11 Jun 16:00</text>
<text class="ax" x="319.5" y="1021.0" textLength="52.4" lengthAdjust="spacingAndGlyphs">12 Jun 08:00</text>
<text class="ax" x="383.5" y="1021.0" textLength="52.4" lengthAdjust="spacingAndGlyphs">13 Jun 00:00</text>
<text class="ax" x="447.5" y="1021.0" textLength="52.4" lengthAdjust="spacingAndGlyphs">13 Jun 16:00</text>
<text class="ax" x="511.5" y="1021.0" textLength="52.4" lengthAdjust="spacingAndGlyphs">14 Jun 08:00</text>
<text class="ax" x="575.5" y="1021.0" textLength="52.4" lengthAdjust="spacingAndGlyphs">17 Jun 00:00</text>
<text class="ax" x="639.5" y="1021.0" textLength="52.4" lengthAdjust="spacingAndGlyphs">17 Jun 16:00</text>
<text class="ax" x="703.5" y="1021.0" textLength="52.4" lengthAdjust="spacingAndGlyphs">18 Jun 08:00</text>
<text class="ax" x="767.5" y="1021.0" textLength="52.4" lengthAdjust="spacingAndGlyphs">19 Jun 00:00</text>
<text class="ax" x="831.5" y="1021.0" textLength="52.4" lengthAdjust="spacingAndGlyphs">19 Jun 16:00</text>
<text class="ax" x="895.5" y="1021.0" textLength="52.4" lengthAdjust="spacingAndGlyphs">20 Jun 08:00</text>
<text class="ax" x="959.5" y="1021.0" textLength="52.4" lengthAdjust="spacingAndGlyphs">21 Jun 00:00</text>
<text class="ax" x="1023.5" y="1021.0" textLength="52.4" lengthAdjust="spacingAndGlyphs">21 Jun 16:00</text>
<text class="ax" x="1087.5" y="1021.0" textLength="52.4" lengthAdjust="spacingAndGlyphs">24 Jun 08:00</text>
<text class="ax" x="1151.5" y="1021.0" textLength="52.4" lengthAdjust="spacingAndGlyphs">25 Jun 00:00</text>
<text class="ax" x="1215.5" y="1021.0" textLength="52.4" lengthAdjust="spacingAndGlyphs">25 Jun 16:00</text>
<text class="ax" x="1279.5" y="1021.0" textLength="52.4" lengthAdjust="spacingAndGlyphs">26 Jun 08:00</text>
<text class="ax" x="1343.5" y="1021.0" textLength="52.4" lengthAdjust="spacingAndGlyphs">27 Jun 00:00</text>
<text class="ax" x="1407.5" y="1021.0" textLength="52.4" lengthAdjust="spacingAndGlyphs">27 Jun 16:00</text>
<text class="ax" x="1471.5" y="1021.0" textLength="52.4" lengthAdjust="spacingAndGlyphs">28 Jun 08:00</text>
<text class="ax" x="1535.5" y="1021.0" textLength="44.4" lengthAdjust="spacingAndGlyphs">1 Jul 00:00</text>
<text class="ax" x="1599.5" y="1021.0" textLength="44.4" lengthAdjust="spacingAndGlyphs">1 Jul 16:00</text>
<text class="ax" x="1663.5" y="1021.0" textLength="44.4" lengthAdjust="spacingAndGlyphs">2 Jul 08:00</text>
<text class="ax" x="1727.5" y="1021.0" textLength="44.4" lengthAdjust="spacingAndGlyphs">3 Jul 08:00</text>
<text class="ax" x="1791.5" y="1021.0" textLength="44.4" lengthAdjust="spacingAndGlyphs">4 Jul 00:00</text>
<text class="ax" x="1855.5" y="1021.0" textLength="44.4" lengthAdjust="spacingAndGlyphs">4 Jul 16:00</text>
<text class="ax" x="1919.5" y="1021.0" textLength="44.4" lengthAdjust="spacingAndGlyphs">5 Jul 08:00</text>
<text class="ax" x="1983.5" y="1021.0" textLength="44.4" lengthAdjust="spacingAndGlyphs">8 Jul 00:00</text>
<text class="ax" x="2047.5" y="1021.0" textLength="44.4" lengthAdjust="spacingAndGlyphs">8 Jul 16:00</text>
<text class="ax" x="2111.5" y="1021.0" textLength="44.4" lengthAdjust="spacingAndGlyphs">9 Jul 08:00</text>
</svg>
</body></html>
